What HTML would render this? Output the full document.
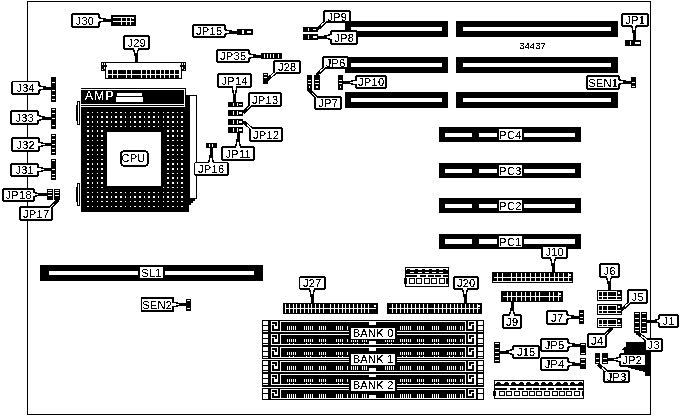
<!DOCTYPE html>
<html lang="en">
<head>
<meta charset="utf-8">
<title>Motherboard layout 34437</title>
<style>
html,body{margin:0;padding:0;background:#fff;}
body{width:682px;height:416px;overflow:hidden;}
svg{display:block;}
svg text{font-family:"Liberation Sans",sans-serif;fill:#000;letter-spacing:0.3px;}
</style>
</head>
<body>
<svg width="682" height="416" viewBox="0 0 682 416" shape-rendering="crispEdges">
<defs><filter id="bw" x="-5%" y="-20%" width="110%" height="140%" color-interpolation-filters="sRGB"><feComponentTransfer><feFuncA type="discrete" tableValues="0 0 0 0 0 1 1 1 1 1 1 1"/></feComponentTransfer></filter></defs>
<rect x="0" y="0" width="682" height="416" fill="#fff"/>
<rect x="27.5" y="1.5" width="623" height="413" fill="none" stroke="#000" stroke-width="1"/>
<rect x="345" y="21" width="103" height="16" fill="#000"/>
<rect x="351" y="27" width="91" height="4" fill="#fff"/>
<rect x="456" y="21" width="162" height="16" fill="#000"/>
<rect x="463" y="27" width="148" height="4" fill="#fff"/>
<rect x="345" y="57" width="103" height="16" fill="#000"/>
<rect x="351" y="63" width="91" height="4" fill="#fff"/>
<rect x="456" y="57" width="162" height="16" fill="#000"/>
<rect x="463" y="63" width="148" height="4" fill="#fff"/>
<rect x="345" y="92" width="103" height="16" fill="#000"/>
<rect x="351" y="98" width="91" height="4" fill="#fff"/>
<rect x="456" y="92" width="162" height="16" fill="#000"/>
<rect x="463" y="98" width="148" height="4" fill="#fff"/>
<rect x="439" y="127" width="142" height="15" fill="#000"/>
<rect x="445" y="133" width="27" height="4" fill="#fff"/>
<rect x="479" y="133" width="18" height="4" fill="#fff"/>
<rect x="524" y="133" width="51" height="4" fill="#fff"/>
<rect x="499" y="129" width="23" height="11" fill="#fff"/>
<text x="510.5" y="139" font-size="11" text-anchor="middle" filter="url(#bw)">PC4</text>
<rect x="439" y="163" width="142" height="15" fill="#000"/>
<rect x="445" y="169" width="27" height="4" fill="#fff"/>
<rect x="479" y="169" width="18" height="4" fill="#fff"/>
<rect x="524" y="169" width="51" height="4" fill="#fff"/>
<rect x="499" y="165" width="23" height="11" fill="#fff"/>
<text x="510.5" y="175" font-size="11" text-anchor="middle" filter="url(#bw)">PC3</text>
<rect x="439" y="198" width="142" height="15" fill="#000"/>
<rect x="445" y="204" width="27" height="4" fill="#fff"/>
<rect x="479" y="204" width="18" height="4" fill="#fff"/>
<rect x="524" y="204" width="51" height="4" fill="#fff"/>
<rect x="499" y="200" width="23" height="11" fill="#fff"/>
<text x="510.5" y="210" font-size="11" text-anchor="middle" filter="url(#bw)">PC2</text>
<rect x="439" y="234" width="142" height="15" fill="#000"/>
<rect x="445" y="239" width="27" height="5" fill="#fff"/>
<rect x="479" y="239" width="18" height="5" fill="#fff"/>
<rect x="524" y="239" width="51" height="5" fill="#fff"/>
<rect x="499" y="236" width="23" height="11" fill="#fff"/>
<text x="510.5" y="246" font-size="11" text-anchor="middle" filter="url(#bw)">PC1</text>
<rect x="40" y="265" width="223" height="16" fill="#000"/>
<rect x="49" y="271" width="89" height="4" fill="#fff"/>
<rect x="165" y="271" width="89" height="4" fill="#fff"/>
<rect x="140" y="267" width="23" height="11" fill="#fff"/>
<text x="151.5" y="276.5" font-size="11" text-anchor="middle" filter="url(#bw)">SL1</text>
<text x="532.5" y="49" font-size="9.5" text-anchor="middle" filter="url(#bw)" style="letter-spacing:0">34437</text>
<rect x="81" y="88" width="105" height="1" fill="#000"/>
<rect x="185" y="88" width="1" height="19" fill="#000"/>
<rect x="81" y="90" width="103" height="14" fill="#000"/>
<rect x="81" y="105" width="103" height="1" fill="#000"/>
<text x="85" y="100" font-size="12" text-anchor="start" filter="url(#bw)" style="fill:#fff;letter-spacing:1.3px">AMP</text>
<rect x="117" y="93" width="25" height="3" fill="#fff"/>
<rect x="116" y="97" width="27" height="5" fill="#fff"/>
<rect x="81" y="107" width="105" height="105" fill="#000"/>
<rect x="186" y="203" width="3" height="9" fill="#000"/>
<polygon points="186,95 197,95 197,199 195,199 195,201 193,201 193,203 191,203 191,205 186,205" fill="#000"/>
<rect x="190" y="96" width="6" height="102" fill="#fff"/>
<rect x="77" y="101" width="3" height="24" fill="#000"/>
<rect x="78" y="102" width="1" height="22" fill="#fff"/>
<rect x="76" y="105" width="1" height="16" fill="#000"/>
<rect x="77" y="183" width="3" height="23" fill="#000"/>
<rect x="78" y="184" width="1" height="21" fill="#fff"/>
<rect x="76" y="187" width="1" height="15" fill="#000"/>
<path d="M87.22,111.62h1.55v1.55h-1.55zM91.93,111.62h1.55v1.55h-1.55zM96.64,111.62h1.55v1.55h-1.55zM101.35,111.62h1.55v1.55h-1.55zM106.06,111.62h1.55v1.55h-1.55zM110.77,111.62h1.55v1.55h-1.55zM115.48,111.62h1.55v1.55h-1.55zM120.19,111.62h1.55v1.55h-1.55zM124.91,111.62h1.55v1.55h-1.55zM129.61,111.62h1.55v1.55h-1.55zM134.32,111.62h1.55v1.55h-1.55zM139.03,111.62h1.55v1.55h-1.55zM143.74,111.62h1.55v1.55h-1.55zM148.45,111.62h1.55v1.55h-1.55zM153.16,111.62h1.55v1.55h-1.55zM157.88,111.62h1.55v1.55h-1.55zM162.59,111.62h1.55v1.55h-1.55zM167.29,111.62h1.55v1.55h-1.55zM172.00,111.62h1.55v1.55h-1.55zM176.72,111.62h1.55v1.55h-1.55zM181.42,111.62h1.55v1.55h-1.55zM87.22,116.33h1.55v1.55h-1.55zM91.93,116.33h1.55v1.55h-1.55zM96.64,116.33h1.55v1.55h-1.55zM101.35,116.33h1.55v1.55h-1.55zM106.06,116.33h1.55v1.55h-1.55zM110.77,116.33h1.55v1.55h-1.55zM115.48,116.33h1.55v1.55h-1.55zM120.19,116.33h1.55v1.55h-1.55zM124.91,116.33h1.55v1.55h-1.55zM129.61,116.33h1.55v1.55h-1.55zM134.32,116.33h1.55v1.55h-1.55zM139.03,116.33h1.55v1.55h-1.55zM143.74,116.33h1.55v1.55h-1.55zM148.45,116.33h1.55v1.55h-1.55zM153.16,116.33h1.55v1.55h-1.55zM157.88,116.33h1.55v1.55h-1.55zM162.59,116.33h1.55v1.55h-1.55zM167.29,116.33h1.55v1.55h-1.55zM172.00,116.33h1.55v1.55h-1.55zM176.72,116.33h1.55v1.55h-1.55zM181.42,116.33h1.55v1.55h-1.55zM87.22,121.03h1.55v1.55h-1.55zM91.93,121.03h1.55v1.55h-1.55zM96.64,121.03h1.55v1.55h-1.55zM101.35,121.03h1.55v1.55h-1.55zM106.06,121.03h1.55v1.55h-1.55zM110.77,121.03h1.55v1.55h-1.55zM115.48,121.03h1.55v1.55h-1.55zM120.19,121.03h1.55v1.55h-1.55zM124.91,121.03h1.55v1.55h-1.55zM129.61,121.03h1.55v1.55h-1.55zM134.32,121.03h1.55v1.55h-1.55zM139.03,121.03h1.55v1.55h-1.55zM143.74,121.03h1.55v1.55h-1.55zM148.45,121.03h1.55v1.55h-1.55zM153.16,121.03h1.55v1.55h-1.55zM157.88,121.03h1.55v1.55h-1.55zM162.59,121.03h1.55v1.55h-1.55zM167.29,121.03h1.55v1.55h-1.55zM172.00,121.03h1.55v1.55h-1.55zM176.72,121.03h1.55v1.55h-1.55zM181.42,121.03h1.55v1.55h-1.55zM87.22,125.72h1.55v1.55h-1.55zM91.93,125.72h1.55v1.55h-1.55zM96.64,125.72h1.55v1.55h-1.55zM101.35,125.72h1.55v1.55h-1.55zM106.06,125.72h1.55v1.55h-1.55zM110.77,125.72h1.55v1.55h-1.55zM115.48,125.72h1.55v1.55h-1.55zM120.19,125.72h1.55v1.55h-1.55zM124.91,125.72h1.55v1.55h-1.55zM129.61,125.72h1.55v1.55h-1.55zM134.32,125.72h1.55v1.55h-1.55zM139.03,125.72h1.55v1.55h-1.55zM143.74,125.72h1.55v1.55h-1.55zM148.45,125.72h1.55v1.55h-1.55zM153.16,125.72h1.55v1.55h-1.55zM157.88,125.72h1.55v1.55h-1.55zM162.59,125.72h1.55v1.55h-1.55zM167.29,125.72h1.55v1.55h-1.55zM172.00,125.72h1.55v1.55h-1.55zM176.72,125.72h1.55v1.55h-1.55zM181.42,125.72h1.55v1.55h-1.55zM87.22,130.43h1.55v1.55h-1.55zM91.93,130.43h1.55v1.55h-1.55zM96.64,130.43h1.55v1.55h-1.55zM101.35,130.43h1.55v1.55h-1.55zM167.29,130.43h1.55v1.55h-1.55zM172.00,130.43h1.55v1.55h-1.55zM176.72,130.43h1.55v1.55h-1.55zM181.42,130.43h1.55v1.55h-1.55zM87.22,135.12h1.55v1.55h-1.55zM91.93,135.12h1.55v1.55h-1.55zM96.64,135.12h1.55v1.55h-1.55zM101.35,135.12h1.55v1.55h-1.55zM167.29,135.12h1.55v1.55h-1.55zM172.00,135.12h1.55v1.55h-1.55zM176.72,135.12h1.55v1.55h-1.55zM181.42,135.12h1.55v1.55h-1.55zM87.22,139.83h1.55v1.55h-1.55zM91.93,139.83h1.55v1.55h-1.55zM96.64,139.83h1.55v1.55h-1.55zM101.35,139.83h1.55v1.55h-1.55zM167.29,139.83h1.55v1.55h-1.55zM172.00,139.83h1.55v1.55h-1.55zM176.72,139.83h1.55v1.55h-1.55zM181.42,139.83h1.55v1.55h-1.55zM87.22,144.53h1.55v1.55h-1.55zM91.93,144.53h1.55v1.55h-1.55zM96.64,144.53h1.55v1.55h-1.55zM101.35,144.53h1.55v1.55h-1.55zM167.29,144.53h1.55v1.55h-1.55zM172.00,144.53h1.55v1.55h-1.55zM176.72,144.53h1.55v1.55h-1.55zM181.42,144.53h1.55v1.55h-1.55zM87.22,149.22h1.55v1.55h-1.55zM91.93,149.22h1.55v1.55h-1.55zM96.64,149.22h1.55v1.55h-1.55zM101.35,149.22h1.55v1.55h-1.55zM167.29,149.22h1.55v1.55h-1.55zM172.00,149.22h1.55v1.55h-1.55zM176.72,149.22h1.55v1.55h-1.55zM181.42,149.22h1.55v1.55h-1.55zM87.22,153.93h1.55v1.55h-1.55zM91.93,153.93h1.55v1.55h-1.55zM96.64,153.93h1.55v1.55h-1.55zM101.35,153.93h1.55v1.55h-1.55zM167.29,153.93h1.55v1.55h-1.55zM172.00,153.93h1.55v1.55h-1.55zM176.72,153.93h1.55v1.55h-1.55zM181.42,153.93h1.55v1.55h-1.55zM87.22,158.62h1.55v1.55h-1.55zM91.93,158.62h1.55v1.55h-1.55zM96.64,158.62h1.55v1.55h-1.55zM101.35,158.62h1.55v1.55h-1.55zM167.29,158.62h1.55v1.55h-1.55zM172.00,158.62h1.55v1.55h-1.55zM176.72,158.62h1.55v1.55h-1.55zM181.42,158.62h1.55v1.55h-1.55zM87.22,163.33h1.55v1.55h-1.55zM91.93,163.33h1.55v1.55h-1.55zM96.64,163.33h1.55v1.55h-1.55zM101.35,163.33h1.55v1.55h-1.55zM167.29,163.33h1.55v1.55h-1.55zM172.00,163.33h1.55v1.55h-1.55zM176.72,163.33h1.55v1.55h-1.55zM181.42,163.33h1.55v1.55h-1.55zM87.22,168.03h1.55v1.55h-1.55zM91.93,168.03h1.55v1.55h-1.55zM96.64,168.03h1.55v1.55h-1.55zM101.35,168.03h1.55v1.55h-1.55zM167.29,168.03h1.55v1.55h-1.55zM172.00,168.03h1.55v1.55h-1.55zM176.72,168.03h1.55v1.55h-1.55zM181.42,168.03h1.55v1.55h-1.55zM87.22,172.72h1.55v1.55h-1.55zM91.93,172.72h1.55v1.55h-1.55zM96.64,172.72h1.55v1.55h-1.55zM101.35,172.72h1.55v1.55h-1.55zM167.29,172.72h1.55v1.55h-1.55zM172.00,172.72h1.55v1.55h-1.55zM176.72,172.72h1.55v1.55h-1.55zM181.42,172.72h1.55v1.55h-1.55zM87.22,177.42h1.55v1.55h-1.55zM91.93,177.42h1.55v1.55h-1.55zM96.64,177.42h1.55v1.55h-1.55zM101.35,177.42h1.55v1.55h-1.55zM167.29,177.42h1.55v1.55h-1.55zM172.00,177.42h1.55v1.55h-1.55zM176.72,177.42h1.55v1.55h-1.55zM181.42,177.42h1.55v1.55h-1.55zM87.22,182.12h1.55v1.55h-1.55zM91.93,182.12h1.55v1.55h-1.55zM96.64,182.12h1.55v1.55h-1.55zM101.35,182.12h1.55v1.55h-1.55zM167.29,182.12h1.55v1.55h-1.55zM172.00,182.12h1.55v1.55h-1.55zM176.72,182.12h1.55v1.55h-1.55zM181.42,182.12h1.55v1.55h-1.55zM87.22,186.83h1.55v1.55h-1.55zM91.93,186.83h1.55v1.55h-1.55zM96.64,186.83h1.55v1.55h-1.55zM101.35,186.83h1.55v1.55h-1.55zM162.59,186.83h1.55v1.55h-1.55zM167.29,186.83h1.55v1.55h-1.55zM172.00,186.83h1.55v1.55h-1.55zM176.72,186.83h1.55v1.55h-1.55zM181.42,186.83h1.55v1.55h-1.55zM87.22,191.53h1.55v1.55h-1.55zM91.93,191.53h1.55v1.55h-1.55zM96.64,191.53h1.55v1.55h-1.55zM101.35,191.53h1.55v1.55h-1.55zM106.06,191.53h1.55v1.55h-1.55zM110.77,191.53h1.55v1.55h-1.55zM115.48,191.53h1.55v1.55h-1.55zM120.19,191.53h1.55v1.55h-1.55zM124.91,191.53h1.55v1.55h-1.55zM129.61,191.53h1.55v1.55h-1.55zM134.32,191.53h1.55v1.55h-1.55zM139.03,191.53h1.55v1.55h-1.55zM143.74,191.53h1.55v1.55h-1.55zM148.45,191.53h1.55v1.55h-1.55zM153.16,191.53h1.55v1.55h-1.55zM157.88,191.53h1.55v1.55h-1.55zM162.59,191.53h1.55v1.55h-1.55zM167.29,191.53h1.55v1.55h-1.55zM172.00,191.53h1.55v1.55h-1.55zM176.72,191.53h1.55v1.55h-1.55zM181.42,191.53h1.55v1.55h-1.55zM87.22,196.22h1.55v1.55h-1.55zM91.93,196.22h1.55v1.55h-1.55zM96.64,196.22h1.55v1.55h-1.55zM101.35,196.22h1.55v1.55h-1.55zM106.06,196.22h1.55v1.55h-1.55zM110.77,196.22h1.55v1.55h-1.55zM115.48,196.22h1.55v1.55h-1.55zM120.19,196.22h1.55v1.55h-1.55zM124.91,196.22h1.55v1.55h-1.55zM129.61,196.22h1.55v1.55h-1.55zM134.32,196.22h1.55v1.55h-1.55zM139.03,196.22h1.55v1.55h-1.55zM143.74,196.22h1.55v1.55h-1.55zM148.45,196.22h1.55v1.55h-1.55zM153.16,196.22h1.55v1.55h-1.55zM157.88,196.22h1.55v1.55h-1.55zM162.59,196.22h1.55v1.55h-1.55zM167.29,196.22h1.55v1.55h-1.55zM172.00,196.22h1.55v1.55h-1.55zM176.72,196.22h1.55v1.55h-1.55zM181.42,196.22h1.55v1.55h-1.55zM87.22,200.92h1.55v1.55h-1.55zM91.93,200.92h1.55v1.55h-1.55zM96.64,200.92h1.55v1.55h-1.55zM101.35,200.92h1.55v1.55h-1.55zM106.06,200.92h1.55v1.55h-1.55zM110.77,200.92h1.55v1.55h-1.55zM115.48,200.92h1.55v1.55h-1.55zM120.19,200.92h1.55v1.55h-1.55zM124.91,200.92h1.55v1.55h-1.55zM129.61,200.92h1.55v1.55h-1.55zM134.32,200.92h1.55v1.55h-1.55zM139.03,200.92h1.55v1.55h-1.55zM143.74,200.92h1.55v1.55h-1.55zM148.45,200.92h1.55v1.55h-1.55zM153.16,200.92h1.55v1.55h-1.55zM157.88,200.92h1.55v1.55h-1.55zM162.59,200.92h1.55v1.55h-1.55zM167.29,200.92h1.55v1.55h-1.55zM172.00,200.92h1.55v1.55h-1.55zM176.72,200.92h1.55v1.55h-1.55zM181.42,200.92h1.55v1.55h-1.55zM87.22,205.62h1.55v1.55h-1.55zM91.93,205.62h1.55v1.55h-1.55zM96.64,205.62h1.55v1.55h-1.55zM101.35,205.62h1.55v1.55h-1.55zM106.06,205.62h1.55v1.55h-1.55zM110.77,205.62h1.55v1.55h-1.55zM115.48,205.62h1.55v1.55h-1.55zM120.19,205.62h1.55v1.55h-1.55zM124.91,205.62h1.55v1.55h-1.55zM129.61,205.62h1.55v1.55h-1.55zM134.32,205.62h1.55v1.55h-1.55zM139.03,205.62h1.55v1.55h-1.55zM143.74,205.62h1.55v1.55h-1.55zM148.45,205.62h1.55v1.55h-1.55zM153.16,205.62h1.55v1.55h-1.55zM157.88,205.62h1.55v1.55h-1.55zM162.59,205.62h1.55v1.55h-1.55zM167.29,205.62h1.55v1.55h-1.55zM172.00,205.62h1.55v1.55h-1.55zM176.72,205.62h1.55v1.55h-1.55zM181.42,205.62h1.55v1.55h-1.55z" fill="#fff"/>
<rect x="107" y="132" width="54" height="54" fill="#fff"/>
<rect x="120" y="150" width="29" height="17" rx="4.5" fill="#000"/>
<rect x="122" y="152" width="25" height="13" rx="3" fill="#fff"/>
<text x="133.5" y="161.8" font-size="11" text-anchor="middle" filter="url(#bw)">CPU</text>
<rect x="101" y="62" width="85" height="1" fill="#000"/>
<rect x="105.5" y="62.5" width="76" height="16" fill="#fff" stroke="#000"/>
<rect x="101" y="62" width="5" height="9" fill="#000"/>
<rect x="106" y="65" width="1" height="2" fill="#000"/>
<rect x="102" y="63" width="1" height="2" fill="#fff"/>
<rect x="104" y="63" width="1" height="2" fill="#fff"/>
<rect x="104" y="67" width="1" height="2" fill="#fff"/>
<rect x="102" y="69" width="1" height="1" fill="#fff"/>
<rect x="181" y="62" width="5" height="9" fill="#000"/>
<rect x="180" y="65" width="1" height="2" fill="#000"/>
<rect x="184" y="63" width="1" height="2" fill="#fff"/>
<rect x="182" y="63" width="1" height="2" fill="#fff"/>
<rect x="182" y="67" width="1" height="2" fill="#fff"/>
<rect x="184" y="69" width="1" height="1" fill="#fff"/>
<rect x="108" y="70" width="71" height="8" fill="#000"/>
<rect x="108" y="74" width="71" height="1" fill="#fff"/>
<rect x="112" y="70" width="1" height="8" fill="#fff"/>
<rect x="117" y="70" width="1" height="8" fill="#fff"/>
<rect x="126" y="70" width="1" height="8" fill="#fff"/>
<rect x="131" y="70" width="1" height="8" fill="#fff"/>
<rect x="141" y="70" width="1" height="8" fill="#fff"/>
<rect x="146" y="70" width="1" height="8" fill="#fff"/>
<rect x="150" y="70" width="1" height="8" fill="#fff"/>
<rect x="155" y="70" width="1" height="8" fill="#fff"/>
<rect x="160" y="70" width="1" height="8" fill="#fff"/>
<rect x="164" y="70" width="1" height="8" fill="#fff"/>
<rect x="169" y="70" width="1" height="8" fill="#fff"/>
<rect x="174" y="70" width="1" height="8" fill="#fff"/>
<rect x="111" y="15" width="25" height="11" fill="#000"/>
<rect x="113" y="17" width="21" height="1" fill="#fff"/>
<rect x="113" y="21" width="21" height="1" fill="#fff"/>
<rect x="121" y="17" width="1" height="8" fill="#fff"/>
<rect x="126" y="17" width="1" height="8" fill="#fff"/>
<rect x="130" y="17" width="1" height="8" fill="#fff"/>
<rect x="132" y="17" width="2" height="2" fill="#fff"/>
<rect x="51" y="77" width="5" height="25" fill="#000"/>
<rect x="52" y="82" width="3" height="1" fill="#fff"/>
<rect x="52" y="90" width="3" height="1" fill="#fff"/>
<rect x="52" y="95" width="3" height="1" fill="#fff"/>
<rect x="52" y="99" width="3" height="1" fill="#fff"/>
<rect x="51" y="108" width="5" height="21" fill="#000"/>
<rect x="52" y="109" width="3" height="1" fill="#fff"/>
<rect x="52" y="113" width="3" height="1" fill="#fff"/>
<rect x="52" y="118" width="3" height="1" fill="#fff"/>
<rect x="52" y="125" width="3" height="1" fill="#fff"/>
<rect x="51" y="134" width="5" height="21" fill="#000"/>
<rect x="52" y="135" width="3" height="1" fill="#fff"/>
<rect x="52" y="139" width="3" height="1" fill="#fff"/>
<rect x="52" y="144" width="3" height="1" fill="#fff"/>
<rect x="52" y="148" width="3" height="1" fill="#fff"/>
<rect x="52" y="152" width="3" height="1" fill="#fff"/>
<rect x="51" y="159" width="5" height="21" fill="#000"/>
<rect x="52" y="160" width="3" height="1" fill="#fff"/>
<rect x="52" y="169" width="3" height="1" fill="#fff"/>
<rect x="52" y="174" width="3" height="1" fill="#fff"/>
<rect x="52" y="177" width="3" height="1" fill="#fff"/>
<rect x="47" y="189" width="6" height="11" fill="#000"/>
<rect x="48" y="190" width="4" height="1" fill="#fff"/>
<rect x="48" y="192" width="4" height="1" fill="#fff"/>
<rect x="48" y="195" width="4" height="1" fill="#fff"/>
<rect x="54" y="189" width="6" height="11" fill="#000"/>
<rect x="55" y="190" width="4" height="1" fill="#fff"/>
<rect x="55" y="192" width="4" height="1" fill="#fff"/>
<rect x="55" y="195" width="4" height="1" fill="#fff"/>
<rect x="237" y="29" width="16" height="6" fill="#000"/>
<rect x="242" y="30" width="1" height="4" fill="#fff"/>
<rect x="243" y="30" width="1" height="4" fill="#fff"/>
<rect x="247" y="31" width="4" height="2" fill="#fff"/>
<rect x="261" y="53" width="21" height="6" fill="#000"/>
<rect x="264" y="54" width="1" height="4" fill="#fff"/>
<rect x="267" y="54" width="1" height="4" fill="#fff"/>
<rect x="270" y="54" width="1" height="4" fill="#fff"/>
<rect x="273" y="54" width="1" height="4" fill="#fff"/>
<rect x="278" y="54" width="1" height="4" fill="#fff"/>
<rect x="263" y="73" width="5" height="11" fill="#000"/>
<rect x="264" y="74" width="3" height="1" fill="#fff"/>
<rect x="264" y="77" width="3" height="1" fill="#fff"/>
<rect x="228" y="102" width="15" height="5" fill="#000"/>
<rect x="233" y="103" width="1" height="3" fill="#fff"/>
<rect x="237" y="103" width="1" height="3" fill="#fff"/>
<rect x="239" y="104" width="3" height="1" fill="#fff"/>
<rect x="228" y="110" width="15" height="6" fill="#000"/>
<rect x="233" y="111" width="1" height="4" fill="#fff"/>
<rect x="237" y="111" width="1" height="4" fill="#fff"/>
<rect x="239" y="112" width="3" height="2" fill="#fff"/>
<rect x="228" y="119" width="15" height="6" fill="#000"/>
<rect x="233" y="120" width="1" height="4" fill="#fff"/>
<rect x="237" y="120" width="1" height="4" fill="#fff"/>
<rect x="239" y="121" width="3" height="2" fill="#fff"/>
<rect x="228" y="127" width="15" height="6" fill="#000"/>
<rect x="233" y="128" width="1" height="4" fill="#fff"/>
<rect x="237" y="128" width="1" height="4" fill="#fff"/>
<rect x="239" y="129" width="3" height="2" fill="#fff"/>
<rect x="206" y="143" width="11" height="5" fill="#000"/>
<rect x="209" y="144" width="1" height="3" fill="#fff"/>
<rect x="212" y="144" width="1" height="3" fill="#fff"/>
<rect x="303" y="27" width="15" height="5" fill="#000"/>
<rect x="308" y="28" width="1" height="3" fill="#fff"/>
<rect x="313" y="29" width="3" height="1" fill="#fff"/>
<rect x="303" y="34" width="15" height="6" fill="#000"/>
<rect x="308" y="35" width="1" height="4" fill="#fff"/>
<rect x="313" y="36" width="4" height="2" fill="#fff"/>
<rect x="307" y="75" width="5" height="15" fill="#000"/>
<rect x="308" y="80" width="3" height="1" fill="#fff"/>
<rect x="308" y="83" width="3" height="1" fill="#fff"/>
<rect x="309" y="86" width="1" height="2" fill="#fff"/>
<rect x="314" y="75" width="6" height="15" fill="#000"/>
<rect x="315" y="80" width="4" height="1" fill="#fff"/>
<rect x="315" y="83" width="4" height="1" fill="#fff"/>
<rect x="316" y="86" width="2" height="2" fill="#fff"/>
<rect x="338" y="75" width="5" height="15" fill="#000"/>
<rect x="339" y="80" width="3" height="1" fill="#fff"/>
<rect x="339" y="83" width="3" height="1" fill="#fff"/>
<rect x="340" y="86" width="1" height="2" fill="#fff"/>
<rect x="625" y="40" width="16" height="6" fill="#000"/>
<rect x="630" y="41" width="1" height="4" fill="#fff"/>
<rect x="635" y="42" width="5" height="2" fill="#fff"/>
<rect x="631" y="77" width="5" height="11" fill="#000"/>
<rect x="632" y="82" width="3" height="1" fill="#fff"/>
<rect x="632" y="86" width="3" height="1" fill="#fff"/>
<rect x="186" y="299" width="5" height="12" fill="#000"/>
<rect x="187" y="300" width="3" height="1" fill="#fff"/>
<rect x="187" y="308" width="3" height="1" fill="#fff"/>
<rect x="283" y="303" width="95" height="11" fill="#000"/>
<rect x="285" y="308" width="91" height="1" fill="#fff"/>
<rect x="285" y="304" width="1" height="9" fill="#fff"/>
<rect x="289" y="304" width="1" height="9" fill="#fff"/>
<rect x="293" y="304" width="1" height="9" fill="#fff"/>
<rect x="296" y="304" width="1" height="9" fill="#fff"/>
<rect x="300" y="304" width="1" height="9" fill="#fff"/>
<rect x="304" y="304" width="1" height="9" fill="#fff"/>
<rect x="308" y="304" width="1" height="9" fill="#fff"/>
<rect x="311" y="304" width="1" height="9" fill="#fff"/>
<rect x="315" y="304" width="1" height="9" fill="#fff"/>
<rect x="319" y="304" width="1" height="9" fill="#fff"/>
<rect x="323" y="304" width="1" height="9" fill="#fff"/>
<rect x="330" y="304" width="1" height="9" fill="#fff"/>
<rect x="334" y="304" width="1" height="9" fill="#fff"/>
<rect x="338" y="304" width="1" height="9" fill="#fff"/>
<rect x="342" y="304" width="1" height="9" fill="#fff"/>
<rect x="345" y="304" width="1" height="9" fill="#fff"/>
<rect x="349" y="304" width="1" height="9" fill="#fff"/>
<rect x="353" y="304" width="1" height="9" fill="#fff"/>
<rect x="357" y="304" width="1" height="9" fill="#fff"/>
<rect x="361" y="304" width="1" height="9" fill="#fff"/>
<rect x="364" y="304" width="1" height="9" fill="#fff"/>
<rect x="368" y="304" width="1" height="9" fill="#fff"/>
<rect x="374" y="305" width="2" height="2" fill="#fff"/>
<rect x="387" y="303" width="95" height="11" fill="#000"/>
<rect x="389" y="308" width="91" height="1" fill="#fff"/>
<rect x="392" y="304" width="1" height="9" fill="#fff"/>
<rect x="396" y="304" width="1" height="9" fill="#fff"/>
<rect x="400" y="304" width="1" height="9" fill="#fff"/>
<rect x="404" y="304" width="1" height="9" fill="#fff"/>
<rect x="407" y="304" width="1" height="9" fill="#fff"/>
<rect x="411" y="304" width="1" height="9" fill="#fff"/>
<rect x="415" y="304" width="1" height="9" fill="#fff"/>
<rect x="419" y="304" width="1" height="9" fill="#fff"/>
<rect x="423" y="304" width="1" height="9" fill="#fff"/>
<rect x="427" y="304" width="1" height="9" fill="#fff"/>
<rect x="434" y="304" width="1" height="9" fill="#fff"/>
<rect x="438" y="304" width="1" height="9" fill="#fff"/>
<rect x="442" y="304" width="1" height="9" fill="#fff"/>
<rect x="446" y="304" width="1" height="9" fill="#fff"/>
<rect x="450" y="304" width="1" height="9" fill="#fff"/>
<rect x="454" y="304" width="1" height="9" fill="#fff"/>
<rect x="457" y="304" width="1" height="9" fill="#fff"/>
<rect x="461" y="304" width="1" height="9" fill="#fff"/>
<rect x="465" y="304" width="1" height="9" fill="#fff"/>
<rect x="469" y="304" width="1" height="9" fill="#fff"/>
<rect x="473" y="304" width="1" height="9" fill="#fff"/>
<rect x="477" y="304" width="1" height="9" fill="#fff"/>
<rect x="478" y="305" width="2" height="2" fill="#fff"/>
<rect x="492" y="272" width="81" height="11" fill="#000"/>
<rect x="494" y="277" width="77" height="1" fill="#fff"/>
<rect x="493" y="281" width="79" height="1" fill="#fff"/>
<rect x="497" y="273" width="1" height="8" fill="#fff"/>
<rect x="502" y="273" width="1" height="8" fill="#fff"/>
<rect x="511" y="273" width="1" height="8" fill="#fff"/>
<rect x="516" y="273" width="1" height="8" fill="#fff"/>
<rect x="521" y="273" width="1" height="8" fill="#fff"/>
<rect x="525" y="273" width="1" height="8" fill="#fff"/>
<rect x="530" y="273" width="1" height="8" fill="#fff"/>
<rect x="535" y="273" width="1" height="8" fill="#fff"/>
<rect x="540" y="273" width="1" height="8" fill="#fff"/>
<rect x="544" y="273" width="1" height="8" fill="#fff"/>
<rect x="549" y="273" width="1" height="8" fill="#fff"/>
<rect x="554" y="273" width="1" height="8" fill="#fff"/>
<rect x="558" y="273" width="1" height="8" fill="#fff"/>
<rect x="563" y="273" width="1" height="8" fill="#fff"/>
<rect x="568" y="273" width="1" height="8" fill="#fff"/>
<rect x="569" y="274" width="2" height="2" fill="#fff"/>
<rect x="501" y="291" width="62" height="11" fill="#000"/>
<rect x="503" y="296" width="58" height="1" fill="#fff"/>
<rect x="507" y="292" width="1" height="9" fill="#fff"/>
<rect x="511" y="292" width="1" height="9" fill="#fff"/>
<rect x="516" y="292" width="1" height="9" fill="#fff"/>
<rect x="521" y="292" width="1" height="9" fill="#fff"/>
<rect x="525" y="292" width="1" height="9" fill="#fff"/>
<rect x="530" y="292" width="1" height="9" fill="#fff"/>
<rect x="535" y="292" width="1" height="9" fill="#fff"/>
<rect x="539" y="292" width="1" height="9" fill="#fff"/>
<rect x="549" y="292" width="1" height="9" fill="#fff"/>
<rect x="553" y="292" width="1" height="9" fill="#fff"/>
<rect x="558" y="292" width="1" height="9" fill="#fff"/>
<rect x="559" y="293" width="2" height="2" fill="#fff"/>
<rect x="597" y="290" width="25" height="11" fill="#000"/>
<rect x="598" y="291" width="18" height="1" fill="#fff"/>
<rect x="598" y="296" width="23" height="1" fill="#fff"/>
<rect x="598" y="299" width="23" height="1" fill="#fff"/>
<rect x="598" y="291" width="1" height="9" fill="#fff"/>
<rect x="602" y="291" width="1" height="9" fill="#fff"/>
<rect x="607" y="291" width="1" height="9" fill="#fff"/>
<rect x="616" y="291" width="1" height="9" fill="#fff"/>
<rect x="618" y="292" width="2" height="2" fill="#fff"/>
<rect x="597" y="304" width="25" height="11" fill="#000"/>
<rect x="598" y="305" width="18" height="1" fill="#fff"/>
<rect x="598" y="310" width="23" height="1" fill="#fff"/>
<rect x="598" y="313" width="23" height="1" fill="#fff"/>
<rect x="598" y="305" width="1" height="9" fill="#fff"/>
<rect x="602" y="305" width="1" height="9" fill="#fff"/>
<rect x="607" y="305" width="1" height="9" fill="#fff"/>
<rect x="616" y="305" width="1" height="9" fill="#fff"/>
<rect x="618" y="306" width="2" height="2" fill="#fff"/>
<rect x="597" y="318" width="25" height="10" fill="#000"/>
<rect x="598" y="319" width="18" height="1" fill="#fff"/>
<rect x="598" y="324" width="23" height="1" fill="#fff"/>
<rect x="598" y="326" width="23" height="1" fill="#fff"/>
<rect x="598" y="319" width="1" height="8" fill="#fff"/>
<rect x="602" y="319" width="1" height="8" fill="#fff"/>
<rect x="607" y="319" width="1" height="8" fill="#fff"/>
<rect x="616" y="319" width="1" height="8" fill="#fff"/>
<rect x="618" y="320" width="2" height="2" fill="#fff"/>
<rect x="579" y="310" width="5" height="14" fill="#000"/>
<rect x="580" y="313" width="3" height="1" fill="#fff"/>
<rect x="580" y="317" width="3" height="1" fill="#fff"/>
<rect x="580" y="320" width="3" height="1" fill="#fff"/>
<rect x="634" y="312" width="6" height="21" fill="#000"/>
<rect x="635" y="313" width="4" height="1" fill="#fff"/>
<rect x="635" y="318" width="4" height="1" fill="#fff"/>
<rect x="635" y="322" width="4" height="1" fill="#fff"/>
<rect x="635" y="327" width="4" height="1" fill="#fff"/>
<rect x="635" y="330" width="4" height="1" fill="#fff"/>
<rect x="641" y="312" width="6" height="21" fill="#000"/>
<rect x="642" y="313" width="4" height="1" fill="#fff"/>
<rect x="642" y="318" width="4" height="1" fill="#fff"/>
<rect x="642" y="322" width="4" height="1" fill="#fff"/>
<rect x="642" y="327" width="4" height="1" fill="#fff"/>
<rect x="642" y="330" width="4" height="1" fill="#fff"/>
<rect x="494" y="342" width="6" height="21" fill="#000"/>
<rect x="495" y="343" width="4" height="1" fill="#fff"/>
<rect x="495" y="348" width="4" height="1" fill="#fff"/>
<rect x="495" y="352" width="4" height="1" fill="#fff"/>
<rect x="495" y="356" width="4" height="1" fill="#fff"/>
<rect x="495" y="360" width="4" height="1" fill="#fff"/>
<rect x="580" y="343" width="6" height="12" fill="#000"/>
<rect x="581" y="344" width="4" height="1" fill="#fff"/>
<rect x="581" y="353" width="4" height="1" fill="#fff"/>
<rect x="580" y="358" width="6" height="11" fill="#000"/>
<rect x="581" y="359" width="4" height="1" fill="#fff"/>
<rect x="581" y="363" width="4" height="1" fill="#fff"/>
<rect x="595" y="353" width="5" height="11" fill="#000"/>
<rect x="596" y="358" width="3" height="1" fill="#fff"/>
<rect x="596" y="362" width="3" height="1" fill="#fff"/>
<rect x="602" y="353" width="6" height="11" fill="#000"/>
<rect x="603" y="358" width="4" height="1" fill="#fff"/>
<rect x="603" y="362" width="4" height="1" fill="#fff"/>
<polygon points="626,342 651,342 651,376 645,376 645,372 629,368 624,366 622,354 622,349 624,347 626,347" fill="#000"/>
<rect x="622" y="350" width="2" height="3" fill="#fff"/>
<rect x="405.5" y="267.5" width="43" height="19" fill="#fff" stroke="#000"/>
<rect x="406" y="270" width="42" height="4" fill="#000"/>
<rect x="407" y="269" width="3" height="1" fill="#000"/>
<rect x="410" y="272" width="4" height="1" fill="#fff"/>
<rect x="415" y="269" width="3" height="1" fill="#000"/>
<rect x="418" y="272" width="4" height="1" fill="#fff"/>
<rect x="422" y="269" width="3" height="1" fill="#000"/>
<rect x="425" y="272" width="4" height="1" fill="#fff"/>
<rect x="429" y="269" width="3" height="1" fill="#000"/>
<rect x="432" y="272" width="4" height="1" fill="#fff"/>
<rect x="436" y="269" width="3" height="1" fill="#000"/>
<rect x="439" y="272" width="4" height="1" fill="#fff"/>
<rect x="443" y="269" width="3" height="1" fill="#000"/>
<rect x="406" y="275" width="11" height="2" fill="#000"/>
<rect x="420" y="275" width="6" height="2" fill="#000"/>
<rect x="428" y="275" width="6" height="2" fill="#000"/>
<rect x="435" y="275" width="6" height="2" fill="#000"/>
<rect x="443" y="275" width="5" height="2" fill="#000"/>
<rect x="409.5" y="278.5" width="5" height="5" fill="#fff" stroke="#000"/>
<rect x="416.5" y="278.5" width="5" height="5" fill="#fff" stroke="#000"/>
<rect x="424.5" y="278.5" width="5" height="5" fill="#fff" stroke="#000"/>
<rect x="431.5" y="278.5" width="5" height="5" fill="#fff" stroke="#000"/>
<rect x="439.5" y="278.5" width="5" height="5" fill="#fff" stroke="#000"/>
<rect x="446.5" y="278.5" width="1" height="5" fill="#fff" stroke="#000"/>
<rect x="404" y="278" width="3" height="6" fill="#000"/>
<rect x="494.5" y="380.5" width="89" height="18" fill="#fff" stroke="#000"/>
<rect x="495" y="384" width="88" height="2" fill="#000"/>
<rect x="497" y="382" width="3" height="1" fill="#000"/>
<rect x="496" y="383" width="5" height="1" fill="#000"/>
<rect x="505" y="382" width="3" height="1" fill="#000"/>
<rect x="504" y="383" width="5" height="1" fill="#000"/>
<rect x="509" y="384" width="2" height="1" fill="#fff"/>
<rect x="512" y="382" width="3" height="1" fill="#000"/>
<rect x="511" y="383" width="5" height="1" fill="#000"/>
<rect x="520" y="382" width="3" height="1" fill="#000"/>
<rect x="519" y="383" width="5" height="1" fill="#000"/>
<rect x="524" y="384" width="2" height="1" fill="#fff"/>
<rect x="527" y="382" width="3" height="1" fill="#000"/>
<rect x="526" y="383" width="5" height="1" fill="#000"/>
<rect x="535" y="382" width="3" height="1" fill="#000"/>
<rect x="534" y="383" width="5" height="1" fill="#000"/>
<rect x="539" y="384" width="2" height="1" fill="#fff"/>
<rect x="542" y="382" width="3" height="1" fill="#000"/>
<rect x="541" y="383" width="5" height="1" fill="#000"/>
<rect x="549" y="382" width="3" height="1" fill="#000"/>
<rect x="548" y="383" width="5" height="1" fill="#000"/>
<rect x="553" y="384" width="2" height="1" fill="#fff"/>
<rect x="557" y="382" width="3" height="1" fill="#000"/>
<rect x="556" y="383" width="5" height="1" fill="#000"/>
<rect x="564" y="382" width="3" height="1" fill="#000"/>
<rect x="563" y="383" width="5" height="1" fill="#000"/>
<rect x="568" y="384" width="2" height="1" fill="#fff"/>
<rect x="571" y="382" width="3" height="1" fill="#000"/>
<rect x="570" y="383" width="5" height="1" fill="#000"/>
<rect x="579" y="382" width="3" height="1" fill="#000"/>
<rect x="578" y="383" width="5" height="1" fill="#000"/>
<rect x="495" y="388" width="12" height="2" fill="#000"/>
<rect x="510" y="388" width="6" height="2" fill="#000"/>
<rect x="518" y="388" width="6" height="2" fill="#000"/>
<rect x="526" y="388" width="6" height="2" fill="#000"/>
<rect x="533" y="388" width="6" height="2" fill="#000"/>
<rect x="540" y="388" width="6" height="2" fill="#000"/>
<rect x="548" y="388" width="6" height="2" fill="#000"/>
<rect x="556" y="388" width="6" height="2" fill="#000"/>
<rect x="563" y="388" width="6" height="2" fill="#000"/>
<rect x="570" y="388" width="6" height="2" fill="#000"/>
<rect x="578" y="388" width="5" height="2" fill="#000"/>
<rect x="499.5" y="391.5" width="5" height="4" fill="#fff" stroke="#000"/>
<rect x="506.5" y="391.5" width="5" height="4" fill="#fff" stroke="#000"/>
<rect x="514.5" y="391.5" width="5" height="4" fill="#fff" stroke="#000"/>
<rect x="522.5" y="391.5" width="5" height="4" fill="#fff" stroke="#000"/>
<rect x="529.5" y="391.5" width="5" height="4" fill="#fff" stroke="#000"/>
<rect x="536.5" y="391.5" width="5" height="4" fill="#fff" stroke="#000"/>
<rect x="544.5" y="391.5" width="5" height="4" fill="#fff" stroke="#000"/>
<rect x="552.5" y="391.5" width="5" height="4" fill="#fff" stroke="#000"/>
<rect x="559.5" y="391.5" width="5" height="4" fill="#fff" stroke="#000"/>
<rect x="566.5" y="391.5" width="5" height="4" fill="#fff" stroke="#000"/>
<rect x="574.5" y="391.5" width="5" height="4" fill="#fff" stroke="#000"/>
<rect x="582" y="391" width="1" height="5" fill="#000"/>
<rect x="493" y="391" width="3" height="5" fill="#000"/>
<rect x="262" y="320" width="222" height="39" fill="#000"/>
<rect x="262" y="360" width="222" height="27" fill="#000"/>
<rect x="262" y="388" width="222" height="12" fill="#000"/>
<rect x="263" y="321" width="5" height="4" fill="#fff"/>
<rect x="263" y="326" width="5" height="4" fill="#fff"/>
<rect x="263" y="331" width="5" height="1" fill="#fff"/>
<rect x="478" y="321" width="5" height="4" fill="#fff"/>
<rect x="478" y="326" width="5" height="4" fill="#fff"/>
<rect x="478" y="331" width="5" height="1" fill="#fff"/>
<rect x="271" y="321" width="206" height="11" fill="#fff"/>
<rect x="272" y="322" width="5" height="2" fill="#000"/>
<rect x="275" y="324" width="2" height="2" fill="#000"/>
<rect x="272" y="325" width="2" height="6" fill="#000"/>
<rect x="272" y="329" width="8" height="2" fill="#000"/>
<rect x="278" y="321" width="2" height="10" fill="#000"/>
<rect x="469" y="322" width="5" height="2" fill="#000"/>
<rect x="469" y="324" width="2" height="2" fill="#000"/>
<rect x="472" y="325" width="2" height="6" fill="#000"/>
<rect x="466" y="329" width="8" height="2" fill="#000"/>
<rect x="466" y="321" width="2" height="10" fill="#000"/>
<rect x="476" y="321" width="1" height="11" fill="#000"/>
<rect x="281" y="322" width="184" height="9" fill="#000"/>
<rect x="287" y="326" width="1" height="4" fill="#fff"/>
<rect x="289" y="326" width="1" height="4" fill="#fff"/>
<rect x="291" y="326" width="1" height="4" fill="#fff"/>
<rect x="293" y="326" width="1" height="4" fill="#fff"/>
<rect x="295" y="326" width="1" height="4" fill="#fff"/>
<rect x="304" y="326" width="1" height="4" fill="#fff"/>
<rect x="306" y="326" width="1" height="4" fill="#fff"/>
<rect x="308" y="326" width="1" height="4" fill="#fff"/>
<rect x="310" y="326" width="1" height="4" fill="#fff"/>
<rect x="312" y="326" width="1" height="4" fill="#fff"/>
<rect x="319" y="326" width="1" height="4" fill="#fff"/>
<rect x="321" y="326" width="1" height="4" fill="#fff"/>
<rect x="323" y="326" width="1" height="4" fill="#fff"/>
<rect x="325" y="326" width="1" height="4" fill="#fff"/>
<rect x="336" y="326" width="1" height="4" fill="#fff"/>
<rect x="338" y="326" width="1" height="4" fill="#fff"/>
<rect x="340" y="326" width="1" height="4" fill="#fff"/>
<rect x="342" y="326" width="1" height="4" fill="#fff"/>
<rect x="347" y="326" width="1" height="4" fill="#fff"/>
<rect x="351" y="326" width="1" height="4" fill="#fff"/>
<rect x="353" y="326" width="1" height="4" fill="#fff"/>
<rect x="355" y="326" width="1" height="4" fill="#fff"/>
<rect x="357" y="326" width="1" height="4" fill="#fff"/>
<rect x="362" y="326" width="1" height="4" fill="#fff"/>
<rect x="364" y="326" width="1" height="4" fill="#fff"/>
<rect x="366" y="326" width="1" height="4" fill="#fff"/>
<rect x="385" y="326" width="1" height="4" fill="#fff"/>
<rect x="387" y="326" width="1" height="4" fill="#fff"/>
<rect x="389" y="326" width="1" height="4" fill="#fff"/>
<rect x="391" y="326" width="1" height="4" fill="#fff"/>
<rect x="393" y="326" width="1" height="4" fill="#fff"/>
<rect x="400" y="326" width="1" height="4" fill="#fff"/>
<rect x="402" y="326" width="1" height="4" fill="#fff"/>
<rect x="404" y="326" width="1" height="4" fill="#fff"/>
<rect x="406" y="326" width="1" height="4" fill="#fff"/>
<rect x="408" y="326" width="1" height="4" fill="#fff"/>
<rect x="410" y="326" width="1" height="4" fill="#fff"/>
<rect x="417" y="326" width="1" height="4" fill="#fff"/>
<rect x="419" y="326" width="1" height="4" fill="#fff"/>
<rect x="421" y="326" width="1" height="4" fill="#fff"/>
<rect x="423" y="326" width="1" height="4" fill="#fff"/>
<rect x="432" y="326" width="1" height="4" fill="#fff"/>
<rect x="434" y="326" width="1" height="4" fill="#fff"/>
<rect x="436" y="326" width="1" height="4" fill="#fff"/>
<rect x="438" y="326" width="1" height="4" fill="#fff"/>
<rect x="447" y="326" width="1" height="4" fill="#fff"/>
<rect x="449" y="326" width="1" height="4" fill="#fff"/>
<rect x="451" y="326" width="1" height="4" fill="#fff"/>
<rect x="453" y="326" width="1" height="4" fill="#fff"/>
<rect x="455" y="326" width="1" height="4" fill="#fff"/>
<rect x="460" y="326" width="1" height="4" fill="#fff"/>
<rect x="462" y="326" width="1" height="4" fill="#fff"/>
<rect x="369" y="322" width="7" height="4" fill="#fff"/>
<rect x="263" y="334" width="5" height="4" fill="#fff"/>
<rect x="263" y="339" width="5" height="4" fill="#fff"/>
<rect x="263" y="344" width="5" height="1" fill="#fff"/>
<rect x="478" y="334" width="5" height="4" fill="#fff"/>
<rect x="478" y="339" width="5" height="4" fill="#fff"/>
<rect x="478" y="344" width="5" height="1" fill="#fff"/>
<rect x="271" y="334" width="206" height="11" fill="#fff"/>
<rect x="272" y="335" width="5" height="2" fill="#000"/>
<rect x="275" y="337" width="2" height="2" fill="#000"/>
<rect x="272" y="338" width="2" height="6" fill="#000"/>
<rect x="272" y="342" width="8" height="2" fill="#000"/>
<rect x="278" y="334" width="2" height="10" fill="#000"/>
<rect x="469" y="335" width="5" height="2" fill="#000"/>
<rect x="469" y="337" width="2" height="2" fill="#000"/>
<rect x="472" y="338" width="2" height="6" fill="#000"/>
<rect x="466" y="342" width="8" height="2" fill="#000"/>
<rect x="466" y="334" width="2" height="10" fill="#000"/>
<rect x="476" y="334" width="1" height="11" fill="#000"/>
<rect x="281" y="335" width="184" height="9" fill="#000"/>
<rect x="287" y="339" width="1" height="3" fill="#fff"/>
<rect x="289" y="339" width="1" height="3" fill="#fff"/>
<rect x="291" y="339" width="1" height="3" fill="#fff"/>
<rect x="293" y="339" width="1" height="3" fill="#fff"/>
<rect x="295" y="339" width="1" height="3" fill="#fff"/>
<rect x="289" y="343" width="1" height="1" fill="#fff"/>
<rect x="293" y="343" width="1" height="1" fill="#fff"/>
<rect x="304" y="339" width="1" height="3" fill="#fff"/>
<rect x="306" y="339" width="1" height="3" fill="#fff"/>
<rect x="308" y="339" width="1" height="3" fill="#fff"/>
<rect x="310" y="339" width="1" height="3" fill="#fff"/>
<rect x="312" y="339" width="1" height="3" fill="#fff"/>
<rect x="306" y="343" width="1" height="1" fill="#fff"/>
<rect x="310" y="343" width="1" height="1" fill="#fff"/>
<rect x="319" y="339" width="1" height="3" fill="#fff"/>
<rect x="321" y="339" width="1" height="3" fill="#fff"/>
<rect x="323" y="339" width="1" height="3" fill="#fff"/>
<rect x="325" y="339" width="1" height="3" fill="#fff"/>
<rect x="321" y="343" width="1" height="1" fill="#fff"/>
<rect x="325" y="343" width="1" height="1" fill="#fff"/>
<rect x="336" y="339" width="1" height="3" fill="#fff"/>
<rect x="338" y="339" width="1" height="3" fill="#fff"/>
<rect x="340" y="339" width="1" height="3" fill="#fff"/>
<rect x="342" y="339" width="1" height="3" fill="#fff"/>
<rect x="338" y="343" width="1" height="1" fill="#fff"/>
<rect x="342" y="343" width="1" height="1" fill="#fff"/>
<rect x="347" y="339" width="1" height="3" fill="#fff"/>
<rect x="351" y="339" width="1" height="3" fill="#fff"/>
<rect x="353" y="339" width="1" height="3" fill="#fff"/>
<rect x="355" y="339" width="1" height="3" fill="#fff"/>
<rect x="357" y="339" width="1" height="3" fill="#fff"/>
<rect x="353" y="343" width="1" height="1" fill="#fff"/>
<rect x="357" y="343" width="1" height="1" fill="#fff"/>
<rect x="362" y="339" width="1" height="3" fill="#fff"/>
<rect x="364" y="339" width="1" height="3" fill="#fff"/>
<rect x="366" y="339" width="1" height="3" fill="#fff"/>
<rect x="364" y="343" width="1" height="1" fill="#fff"/>
<rect x="385" y="339" width="1" height="3" fill="#fff"/>
<rect x="387" y="339" width="1" height="3" fill="#fff"/>
<rect x="389" y="339" width="1" height="3" fill="#fff"/>
<rect x="391" y="339" width="1" height="3" fill="#fff"/>
<rect x="393" y="339" width="1" height="3" fill="#fff"/>
<rect x="387" y="343" width="1" height="1" fill="#fff"/>
<rect x="391" y="343" width="1" height="1" fill="#fff"/>
<rect x="400" y="339" width="1" height="3" fill="#fff"/>
<rect x="402" y="339" width="1" height="3" fill="#fff"/>
<rect x="404" y="339" width="1" height="3" fill="#fff"/>
<rect x="406" y="339" width="1" height="3" fill="#fff"/>
<rect x="408" y="339" width="1" height="3" fill="#fff"/>
<rect x="410" y="339" width="1" height="3" fill="#fff"/>
<rect x="402" y="343" width="1" height="1" fill="#fff"/>
<rect x="406" y="343" width="1" height="1" fill="#fff"/>
<rect x="417" y="339" width="1" height="3" fill="#fff"/>
<rect x="419" y="339" width="1" height="3" fill="#fff"/>
<rect x="421" y="339" width="1" height="3" fill="#fff"/>
<rect x="423" y="339" width="1" height="3" fill="#fff"/>
<rect x="419" y="343" width="1" height="1" fill="#fff"/>
<rect x="423" y="343" width="1" height="1" fill="#fff"/>
<rect x="432" y="339" width="1" height="3" fill="#fff"/>
<rect x="434" y="339" width="1" height="3" fill="#fff"/>
<rect x="436" y="339" width="1" height="3" fill="#fff"/>
<rect x="438" y="339" width="1" height="3" fill="#fff"/>
<rect x="434" y="343" width="1" height="1" fill="#fff"/>
<rect x="438" y="343" width="1" height="1" fill="#fff"/>
<rect x="447" y="339" width="1" height="3" fill="#fff"/>
<rect x="449" y="339" width="1" height="3" fill="#fff"/>
<rect x="451" y="339" width="1" height="3" fill="#fff"/>
<rect x="453" y="339" width="1" height="3" fill="#fff"/>
<rect x="455" y="339" width="1" height="3" fill="#fff"/>
<rect x="449" y="343" width="1" height="1" fill="#fff"/>
<rect x="453" y="343" width="1" height="1" fill="#fff"/>
<rect x="460" y="339" width="1" height="3" fill="#fff"/>
<rect x="462" y="339" width="1" height="3" fill="#fff"/>
<rect x="462" y="343" width="1" height="1" fill="#fff"/>
<rect x="369" y="341" width="7" height="3" fill="#fff"/>
<rect x="263" y="347" width="5" height="4" fill="#fff"/>
<rect x="263" y="352" width="5" height="4" fill="#fff"/>
<rect x="263" y="357" width="5" height="1" fill="#fff"/>
<rect x="478" y="347" width="5" height="4" fill="#fff"/>
<rect x="478" y="352" width="5" height="4" fill="#fff"/>
<rect x="478" y="357" width="5" height="1" fill="#fff"/>
<rect x="271" y="347" width="206" height="11" fill="#fff"/>
<rect x="272" y="348" width="5" height="2" fill="#000"/>
<rect x="275" y="350" width="2" height="2" fill="#000"/>
<rect x="272" y="351" width="2" height="6" fill="#000"/>
<rect x="272" y="355" width="8" height="2" fill="#000"/>
<rect x="278" y="347" width="2" height="10" fill="#000"/>
<rect x="469" y="348" width="5" height="2" fill="#000"/>
<rect x="469" y="350" width="2" height="2" fill="#000"/>
<rect x="472" y="351" width="2" height="6" fill="#000"/>
<rect x="466" y="355" width="8" height="2" fill="#000"/>
<rect x="466" y="347" width="2" height="10" fill="#000"/>
<rect x="476" y="347" width="1" height="11" fill="#000"/>
<rect x="281" y="348" width="184" height="9" fill="#000"/>
<rect x="287" y="352" width="1" height="3" fill="#fff"/>
<rect x="289" y="352" width="1" height="3" fill="#fff"/>
<rect x="291" y="352" width="1" height="3" fill="#fff"/>
<rect x="293" y="352" width="1" height="3" fill="#fff"/>
<rect x="295" y="352" width="1" height="3" fill="#fff"/>
<rect x="289" y="356" width="1" height="1" fill="#fff"/>
<rect x="293" y="356" width="1" height="1" fill="#fff"/>
<rect x="304" y="352" width="1" height="3" fill="#fff"/>
<rect x="306" y="352" width="1" height="3" fill="#fff"/>
<rect x="308" y="352" width="1" height="3" fill="#fff"/>
<rect x="310" y="352" width="1" height="3" fill="#fff"/>
<rect x="312" y="352" width="1" height="3" fill="#fff"/>
<rect x="306" y="356" width="1" height="1" fill="#fff"/>
<rect x="310" y="356" width="1" height="1" fill="#fff"/>
<rect x="319" y="352" width="1" height="3" fill="#fff"/>
<rect x="321" y="352" width="1" height="3" fill="#fff"/>
<rect x="323" y="352" width="1" height="3" fill="#fff"/>
<rect x="325" y="352" width="1" height="3" fill="#fff"/>
<rect x="321" y="356" width="1" height="1" fill="#fff"/>
<rect x="325" y="356" width="1" height="1" fill="#fff"/>
<rect x="336" y="352" width="1" height="3" fill="#fff"/>
<rect x="338" y="352" width="1" height="3" fill="#fff"/>
<rect x="340" y="352" width="1" height="3" fill="#fff"/>
<rect x="342" y="352" width="1" height="3" fill="#fff"/>
<rect x="338" y="356" width="1" height="1" fill="#fff"/>
<rect x="342" y="356" width="1" height="1" fill="#fff"/>
<rect x="347" y="352" width="1" height="3" fill="#fff"/>
<rect x="351" y="352" width="1" height="3" fill="#fff"/>
<rect x="353" y="352" width="1" height="3" fill="#fff"/>
<rect x="355" y="352" width="1" height="3" fill="#fff"/>
<rect x="357" y="352" width="1" height="3" fill="#fff"/>
<rect x="353" y="356" width="1" height="1" fill="#fff"/>
<rect x="357" y="356" width="1" height="1" fill="#fff"/>
<rect x="362" y="352" width="1" height="3" fill="#fff"/>
<rect x="364" y="352" width="1" height="3" fill="#fff"/>
<rect x="366" y="352" width="1" height="3" fill="#fff"/>
<rect x="364" y="356" width="1" height="1" fill="#fff"/>
<rect x="385" y="352" width="1" height="3" fill="#fff"/>
<rect x="387" y="352" width="1" height="3" fill="#fff"/>
<rect x="389" y="352" width="1" height="3" fill="#fff"/>
<rect x="391" y="352" width="1" height="3" fill="#fff"/>
<rect x="393" y="352" width="1" height="3" fill="#fff"/>
<rect x="387" y="356" width="1" height="1" fill="#fff"/>
<rect x="391" y="356" width="1" height="1" fill="#fff"/>
<rect x="400" y="352" width="1" height="3" fill="#fff"/>
<rect x="402" y="352" width="1" height="3" fill="#fff"/>
<rect x="404" y="352" width="1" height="3" fill="#fff"/>
<rect x="406" y="352" width="1" height="3" fill="#fff"/>
<rect x="408" y="352" width="1" height="3" fill="#fff"/>
<rect x="410" y="352" width="1" height="3" fill="#fff"/>
<rect x="402" y="356" width="1" height="1" fill="#fff"/>
<rect x="406" y="356" width="1" height="1" fill="#fff"/>
<rect x="417" y="352" width="1" height="3" fill="#fff"/>
<rect x="419" y="352" width="1" height="3" fill="#fff"/>
<rect x="421" y="352" width="1" height="3" fill="#fff"/>
<rect x="423" y="352" width="1" height="3" fill="#fff"/>
<rect x="419" y="356" width="1" height="1" fill="#fff"/>
<rect x="423" y="356" width="1" height="1" fill="#fff"/>
<rect x="432" y="352" width="1" height="3" fill="#fff"/>
<rect x="434" y="352" width="1" height="3" fill="#fff"/>
<rect x="436" y="352" width="1" height="3" fill="#fff"/>
<rect x="438" y="352" width="1" height="3" fill="#fff"/>
<rect x="434" y="356" width="1" height="1" fill="#fff"/>
<rect x="438" y="356" width="1" height="1" fill="#fff"/>
<rect x="447" y="352" width="1" height="3" fill="#fff"/>
<rect x="449" y="352" width="1" height="3" fill="#fff"/>
<rect x="451" y="352" width="1" height="3" fill="#fff"/>
<rect x="453" y="352" width="1" height="3" fill="#fff"/>
<rect x="455" y="352" width="1" height="3" fill="#fff"/>
<rect x="449" y="356" width="1" height="1" fill="#fff"/>
<rect x="453" y="356" width="1" height="1" fill="#fff"/>
<rect x="460" y="352" width="1" height="3" fill="#fff"/>
<rect x="462" y="352" width="1" height="3" fill="#fff"/>
<rect x="462" y="356" width="1" height="1" fill="#fff"/>
<rect x="369" y="348" width="7" height="4" fill="#fff"/>
<rect x="263" y="361" width="5" height="4" fill="#fff"/>
<rect x="263" y="366" width="5" height="4" fill="#fff"/>
<rect x="263" y="371" width="5" height="1" fill="#fff"/>
<rect x="478" y="361" width="5" height="4" fill="#fff"/>
<rect x="478" y="366" width="5" height="4" fill="#fff"/>
<rect x="478" y="371" width="5" height="1" fill="#fff"/>
<rect x="271" y="361" width="206" height="11" fill="#fff"/>
<rect x="272" y="362" width="5" height="2" fill="#000"/>
<rect x="275" y="364" width="2" height="2" fill="#000"/>
<rect x="272" y="365" width="2" height="6" fill="#000"/>
<rect x="272" y="369" width="8" height="2" fill="#000"/>
<rect x="278" y="361" width="2" height="10" fill="#000"/>
<rect x="469" y="362" width="5" height="2" fill="#000"/>
<rect x="469" y="364" width="2" height="2" fill="#000"/>
<rect x="472" y="365" width="2" height="6" fill="#000"/>
<rect x="466" y="369" width="8" height="2" fill="#000"/>
<rect x="466" y="361" width="2" height="10" fill="#000"/>
<rect x="476" y="361" width="1" height="11" fill="#000"/>
<rect x="281" y="362" width="184" height="9" fill="#000"/>
<rect x="287" y="366" width="1" height="4" fill="#fff"/>
<rect x="289" y="366" width="1" height="4" fill="#fff"/>
<rect x="291" y="366" width="1" height="4" fill="#fff"/>
<rect x="293" y="366" width="1" height="4" fill="#fff"/>
<rect x="295" y="366" width="1" height="4" fill="#fff"/>
<rect x="304" y="366" width="1" height="4" fill="#fff"/>
<rect x="306" y="366" width="1" height="4" fill="#fff"/>
<rect x="308" y="366" width="1" height="4" fill="#fff"/>
<rect x="310" y="366" width="1" height="4" fill="#fff"/>
<rect x="312" y="366" width="1" height="4" fill="#fff"/>
<rect x="319" y="366" width="1" height="4" fill="#fff"/>
<rect x="321" y="366" width="1" height="4" fill="#fff"/>
<rect x="323" y="366" width="1" height="4" fill="#fff"/>
<rect x="325" y="366" width="1" height="4" fill="#fff"/>
<rect x="336" y="366" width="1" height="4" fill="#fff"/>
<rect x="338" y="366" width="1" height="4" fill="#fff"/>
<rect x="340" y="366" width="1" height="4" fill="#fff"/>
<rect x="342" y="366" width="1" height="4" fill="#fff"/>
<rect x="347" y="366" width="1" height="4" fill="#fff"/>
<rect x="351" y="366" width="1" height="4" fill="#fff"/>
<rect x="353" y="366" width="1" height="4" fill="#fff"/>
<rect x="355" y="366" width="1" height="4" fill="#fff"/>
<rect x="357" y="366" width="1" height="4" fill="#fff"/>
<rect x="362" y="366" width="1" height="4" fill="#fff"/>
<rect x="364" y="366" width="1" height="4" fill="#fff"/>
<rect x="366" y="366" width="1" height="4" fill="#fff"/>
<rect x="385" y="366" width="1" height="4" fill="#fff"/>
<rect x="387" y="366" width="1" height="4" fill="#fff"/>
<rect x="389" y="366" width="1" height="4" fill="#fff"/>
<rect x="391" y="366" width="1" height="4" fill="#fff"/>
<rect x="393" y="366" width="1" height="4" fill="#fff"/>
<rect x="400" y="366" width="1" height="4" fill="#fff"/>
<rect x="402" y="366" width="1" height="4" fill="#fff"/>
<rect x="404" y="366" width="1" height="4" fill="#fff"/>
<rect x="406" y="366" width="1" height="4" fill="#fff"/>
<rect x="408" y="366" width="1" height="4" fill="#fff"/>
<rect x="410" y="366" width="1" height="4" fill="#fff"/>
<rect x="417" y="366" width="1" height="4" fill="#fff"/>
<rect x="419" y="366" width="1" height="4" fill="#fff"/>
<rect x="421" y="366" width="1" height="4" fill="#fff"/>
<rect x="423" y="366" width="1" height="4" fill="#fff"/>
<rect x="432" y="366" width="1" height="4" fill="#fff"/>
<rect x="434" y="366" width="1" height="4" fill="#fff"/>
<rect x="436" y="366" width="1" height="4" fill="#fff"/>
<rect x="438" y="366" width="1" height="4" fill="#fff"/>
<rect x="447" y="366" width="1" height="4" fill="#fff"/>
<rect x="449" y="366" width="1" height="4" fill="#fff"/>
<rect x="451" y="366" width="1" height="4" fill="#fff"/>
<rect x="453" y="366" width="1" height="4" fill="#fff"/>
<rect x="455" y="366" width="1" height="4" fill="#fff"/>
<rect x="460" y="366" width="1" height="4" fill="#fff"/>
<rect x="462" y="366" width="1" height="4" fill="#fff"/>
<rect x="369" y="368" width="7" height="3" fill="#fff"/>
<rect x="263" y="374" width="5" height="4" fill="#fff"/>
<rect x="263" y="379" width="5" height="4" fill="#fff"/>
<rect x="263" y="384" width="5" height="1" fill="#fff"/>
<rect x="478" y="374" width="5" height="4" fill="#fff"/>
<rect x="478" y="379" width="5" height="4" fill="#fff"/>
<rect x="478" y="384" width="5" height="1" fill="#fff"/>
<rect x="271" y="374" width="206" height="11" fill="#fff"/>
<rect x="272" y="375" width="5" height="2" fill="#000"/>
<rect x="275" y="377" width="2" height="2" fill="#000"/>
<rect x="272" y="378" width="2" height="6" fill="#000"/>
<rect x="272" y="382" width="8" height="2" fill="#000"/>
<rect x="278" y="374" width="2" height="10" fill="#000"/>
<rect x="469" y="375" width="5" height="2" fill="#000"/>
<rect x="469" y="377" width="2" height="2" fill="#000"/>
<rect x="472" y="378" width="2" height="6" fill="#000"/>
<rect x="466" y="382" width="8" height="2" fill="#000"/>
<rect x="466" y="374" width="2" height="10" fill="#000"/>
<rect x="476" y="374" width="1" height="11" fill="#000"/>
<rect x="281" y="375" width="184" height="9" fill="#000"/>
<rect x="287" y="379" width="1" height="3" fill="#fff"/>
<rect x="289" y="379" width="1" height="3" fill="#fff"/>
<rect x="291" y="379" width="1" height="3" fill="#fff"/>
<rect x="293" y="379" width="1" height="3" fill="#fff"/>
<rect x="295" y="379" width="1" height="3" fill="#fff"/>
<rect x="289" y="383" width="1" height="1" fill="#fff"/>
<rect x="293" y="383" width="1" height="1" fill="#fff"/>
<rect x="304" y="379" width="1" height="3" fill="#fff"/>
<rect x="306" y="379" width="1" height="3" fill="#fff"/>
<rect x="308" y="379" width="1" height="3" fill="#fff"/>
<rect x="310" y="379" width="1" height="3" fill="#fff"/>
<rect x="312" y="379" width="1" height="3" fill="#fff"/>
<rect x="306" y="383" width="1" height="1" fill="#fff"/>
<rect x="310" y="383" width="1" height="1" fill="#fff"/>
<rect x="319" y="379" width="1" height="3" fill="#fff"/>
<rect x="321" y="379" width="1" height="3" fill="#fff"/>
<rect x="323" y="379" width="1" height="3" fill="#fff"/>
<rect x="325" y="379" width="1" height="3" fill="#fff"/>
<rect x="321" y="383" width="1" height="1" fill="#fff"/>
<rect x="325" y="383" width="1" height="1" fill="#fff"/>
<rect x="336" y="379" width="1" height="3" fill="#fff"/>
<rect x="338" y="379" width="1" height="3" fill="#fff"/>
<rect x="340" y="379" width="1" height="3" fill="#fff"/>
<rect x="342" y="379" width="1" height="3" fill="#fff"/>
<rect x="338" y="383" width="1" height="1" fill="#fff"/>
<rect x="342" y="383" width="1" height="1" fill="#fff"/>
<rect x="347" y="379" width="1" height="3" fill="#fff"/>
<rect x="351" y="379" width="1" height="3" fill="#fff"/>
<rect x="353" y="379" width="1" height="3" fill="#fff"/>
<rect x="355" y="379" width="1" height="3" fill="#fff"/>
<rect x="357" y="379" width="1" height="3" fill="#fff"/>
<rect x="353" y="383" width="1" height="1" fill="#fff"/>
<rect x="357" y="383" width="1" height="1" fill="#fff"/>
<rect x="362" y="379" width="1" height="3" fill="#fff"/>
<rect x="364" y="379" width="1" height="3" fill="#fff"/>
<rect x="366" y="379" width="1" height="3" fill="#fff"/>
<rect x="364" y="383" width="1" height="1" fill="#fff"/>
<rect x="385" y="379" width="1" height="3" fill="#fff"/>
<rect x="387" y="379" width="1" height="3" fill="#fff"/>
<rect x="389" y="379" width="1" height="3" fill="#fff"/>
<rect x="391" y="379" width="1" height="3" fill="#fff"/>
<rect x="393" y="379" width="1" height="3" fill="#fff"/>
<rect x="387" y="383" width="1" height="1" fill="#fff"/>
<rect x="391" y="383" width="1" height="1" fill="#fff"/>
<rect x="400" y="379" width="1" height="3" fill="#fff"/>
<rect x="402" y="379" width="1" height="3" fill="#fff"/>
<rect x="404" y="379" width="1" height="3" fill="#fff"/>
<rect x="406" y="379" width="1" height="3" fill="#fff"/>
<rect x="408" y="379" width="1" height="3" fill="#fff"/>
<rect x="410" y="379" width="1" height="3" fill="#fff"/>
<rect x="402" y="383" width="1" height="1" fill="#fff"/>
<rect x="406" y="383" width="1" height="1" fill="#fff"/>
<rect x="417" y="379" width="1" height="3" fill="#fff"/>
<rect x="419" y="379" width="1" height="3" fill="#fff"/>
<rect x="421" y="379" width="1" height="3" fill="#fff"/>
<rect x="423" y="379" width="1" height="3" fill="#fff"/>
<rect x="419" y="383" width="1" height="1" fill="#fff"/>
<rect x="423" y="383" width="1" height="1" fill="#fff"/>
<rect x="432" y="379" width="1" height="3" fill="#fff"/>
<rect x="434" y="379" width="1" height="3" fill="#fff"/>
<rect x="436" y="379" width="1" height="3" fill="#fff"/>
<rect x="438" y="379" width="1" height="3" fill="#fff"/>
<rect x="434" y="383" width="1" height="1" fill="#fff"/>
<rect x="438" y="383" width="1" height="1" fill="#fff"/>
<rect x="447" y="379" width="1" height="3" fill="#fff"/>
<rect x="449" y="379" width="1" height="3" fill="#fff"/>
<rect x="451" y="379" width="1" height="3" fill="#fff"/>
<rect x="453" y="379" width="1" height="3" fill="#fff"/>
<rect x="455" y="379" width="1" height="3" fill="#fff"/>
<rect x="449" y="383" width="1" height="1" fill="#fff"/>
<rect x="453" y="383" width="1" height="1" fill="#fff"/>
<rect x="460" y="379" width="1" height="3" fill="#fff"/>
<rect x="462" y="379" width="1" height="3" fill="#fff"/>
<rect x="462" y="383" width="1" height="1" fill="#fff"/>
<rect x="369" y="375" width="7" height="4" fill="#fff"/>
<rect x="263" y="389" width="5" height="4" fill="#fff"/>
<rect x="263" y="394" width="5" height="4" fill="#fff"/>
<rect x="263" y="398" width="5" height="1" fill="#fff"/>
<rect x="478" y="389" width="5" height="4" fill="#fff"/>
<rect x="478" y="394" width="5" height="4" fill="#fff"/>
<rect x="478" y="398" width="5" height="1" fill="#fff"/>
<rect x="271" y="389" width="206" height="10" fill="#fff"/>
<rect x="272" y="390" width="5" height="2" fill="#000"/>
<rect x="275" y="392" width="2" height="2" fill="#000"/>
<rect x="272" y="393" width="2" height="5" fill="#000"/>
<rect x="272" y="396" width="8" height="2" fill="#000"/>
<rect x="278" y="389" width="2" height="9" fill="#000"/>
<rect x="469" y="390" width="5" height="2" fill="#000"/>
<rect x="469" y="392" width="2" height="2" fill="#000"/>
<rect x="472" y="393" width="2" height="5" fill="#000"/>
<rect x="466" y="396" width="8" height="2" fill="#000"/>
<rect x="466" y="389" width="2" height="9" fill="#000"/>
<rect x="476" y="389" width="1" height="10" fill="#000"/>
<rect x="281" y="390" width="184" height="8" fill="#000"/>
<rect x="287" y="394" width="1" height="4" fill="#fff"/>
<rect x="289" y="394" width="1" height="4" fill="#fff"/>
<rect x="291" y="394" width="1" height="4" fill="#fff"/>
<rect x="293" y="394" width="1" height="4" fill="#fff"/>
<rect x="295" y="394" width="1" height="4" fill="#fff"/>
<rect x="304" y="394" width="1" height="4" fill="#fff"/>
<rect x="306" y="394" width="1" height="4" fill="#fff"/>
<rect x="308" y="394" width="1" height="4" fill="#fff"/>
<rect x="310" y="394" width="1" height="4" fill="#fff"/>
<rect x="312" y="394" width="1" height="4" fill="#fff"/>
<rect x="319" y="394" width="1" height="4" fill="#fff"/>
<rect x="321" y="394" width="1" height="4" fill="#fff"/>
<rect x="323" y="394" width="1" height="4" fill="#fff"/>
<rect x="325" y="394" width="1" height="4" fill="#fff"/>
<rect x="336" y="394" width="1" height="4" fill="#fff"/>
<rect x="338" y="394" width="1" height="4" fill="#fff"/>
<rect x="340" y="394" width="1" height="4" fill="#fff"/>
<rect x="342" y="394" width="1" height="4" fill="#fff"/>
<rect x="347" y="394" width="1" height="4" fill="#fff"/>
<rect x="351" y="394" width="1" height="4" fill="#fff"/>
<rect x="353" y="394" width="1" height="4" fill="#fff"/>
<rect x="355" y="394" width="1" height="4" fill="#fff"/>
<rect x="357" y="394" width="1" height="4" fill="#fff"/>
<rect x="362" y="394" width="1" height="4" fill="#fff"/>
<rect x="364" y="394" width="1" height="4" fill="#fff"/>
<rect x="366" y="394" width="1" height="4" fill="#fff"/>
<rect x="385" y="394" width="1" height="4" fill="#fff"/>
<rect x="387" y="394" width="1" height="4" fill="#fff"/>
<rect x="389" y="394" width="1" height="4" fill="#fff"/>
<rect x="391" y="394" width="1" height="4" fill="#fff"/>
<rect x="393" y="394" width="1" height="4" fill="#fff"/>
<rect x="400" y="394" width="1" height="4" fill="#fff"/>
<rect x="402" y="394" width="1" height="4" fill="#fff"/>
<rect x="404" y="394" width="1" height="4" fill="#fff"/>
<rect x="406" y="394" width="1" height="4" fill="#fff"/>
<rect x="408" y="394" width="1" height="4" fill="#fff"/>
<rect x="410" y="394" width="1" height="4" fill="#fff"/>
<rect x="417" y="394" width="1" height="4" fill="#fff"/>
<rect x="419" y="394" width="1" height="4" fill="#fff"/>
<rect x="421" y="394" width="1" height="4" fill="#fff"/>
<rect x="423" y="394" width="1" height="4" fill="#fff"/>
<rect x="432" y="394" width="1" height="4" fill="#fff"/>
<rect x="434" y="394" width="1" height="4" fill="#fff"/>
<rect x="436" y="394" width="1" height="4" fill="#fff"/>
<rect x="438" y="394" width="1" height="4" fill="#fff"/>
<rect x="447" y="394" width="1" height="4" fill="#fff"/>
<rect x="449" y="394" width="1" height="4" fill="#fff"/>
<rect x="451" y="394" width="1" height="4" fill="#fff"/>
<rect x="453" y="394" width="1" height="4" fill="#fff"/>
<rect x="455" y="394" width="1" height="4" fill="#fff"/>
<rect x="460" y="394" width="1" height="4" fill="#fff"/>
<rect x="462" y="394" width="1" height="4" fill="#fff"/>
<rect x="369" y="395" width="7" height="3" fill="#fff"/>
<rect x="349" y="325" width="48" height="15" fill="#000"/>
<rect x="351" y="328" width="44" height="11" rx="1.5" fill="#fff"/>
<text x="373.2" y="336.5" font-size="11" text-anchor="middle" filter="url(#bw)">BANK 0</text>
<rect x="349" y="351" width="48" height="15" fill="#000"/>
<rect x="351" y="354" width="44" height="11" rx="1.5" fill="#fff"/>
<text x="373.2" y="362.5" font-size="11" text-anchor="middle" filter="url(#bw)">BANK 1</text>
<rect x="349" y="377" width="48" height="15" fill="#000"/>
<rect x="351" y="380" width="44" height="11" rx="1.5" fill="#fff"/>
<text x="373.2" y="388.5" font-size="11" text-anchor="middle" filter="url(#bw)">BANK 2</text>
<line x1="104.2" y1="20" x2="111" y2="20" stroke="#000" stroke-width="3"/>
<polygon points="97,22.2 106.2,20 97,17.8" fill="#000" stroke="#000" stroke-width="2.6" stroke-linejoin="round"/>
<rect x="71" y="13" width="29" height="15" rx="3" fill="#000"/>
<polygon points="97,22.2 104.7,20 97,17.8" fill="#fff" stroke="none"/>
<rect x="73" y="15" width="25" height="11" rx="1.5" fill="#fff"/>
<text x="84.9" y="24.7" font-size="11" text-anchor="middle" filter="url(#bw)">J30</text>
<line x1="136" y1="54.8" x2="136" y2="62" stroke="#000" stroke-width="3"/>
<polygon points="133.8,47 136,56.8 138.2,47" fill="#000" stroke="#000" stroke-width="2.6" stroke-linejoin="round"/>
<rect x="123" y="35" width="27" height="15" rx="3" fill="#000"/>
<polygon points="133.8,47 136,55.3 138.2,47" fill="#fff" stroke="none"/>
<rect x="125" y="37" width="23" height="11" rx="1.5" fill="#fff"/>
<text x="136.7" y="46.7" font-size="11" text-anchor="middle" filter="url(#bw)">J29</text>
<line x1="44.2" y1="88" x2="51" y2="88" stroke="#000" stroke-width="3"/>
<polygon points="37,90.2 46.2,88 37,85.8" fill="#000" stroke="#000" stroke-width="2.6" stroke-linejoin="round"/>
<rect x="11" y="81" width="29" height="14" rx="3" fill="#000"/>
<polygon points="37,90.2 44.7,88 37,85.8" fill="#fff" stroke="none"/>
<rect x="13" y="82" width="25" height="11" rx="1.5" fill="#fff"/>
<text x="25.7" y="91.7" font-size="11" text-anchor="middle" filter="url(#bw)">J34</text>
<line x1="43.8" y1="118" x2="51" y2="118" stroke="#000" stroke-width="3"/>
<polygon points="36,120.2 45.8,118 36,115.8" fill="#000" stroke="#000" stroke-width="2.6" stroke-linejoin="round"/>
<rect x="10" y="110" width="29" height="15" rx="3" fill="#000"/>
<polygon points="36,120.2 44.3,118 36,115.8" fill="#fff" stroke="none"/>
<rect x="12" y="112" width="25" height="11" rx="1.5" fill="#fff"/>
<text x="24.7" y="121.7" font-size="11" text-anchor="middle" filter="url(#bw)">J33</text>
<line x1="44.2" y1="144.5" x2="51" y2="144.5" stroke="#000" stroke-width="3"/>
<polygon points="37,146.7 46.2,144.5 37,142.3" fill="#000" stroke="#000" stroke-width="2.6" stroke-linejoin="round"/>
<rect x="11" y="137" width="29" height="15" rx="3" fill="#000"/>
<polygon points="37,146.7 44.7,144.5 37,142.3" fill="#fff" stroke="none"/>
<rect x="13" y="139" width="25" height="11" rx="1.5" fill="#fff"/>
<text x="25.7" y="148.7" font-size="11" text-anchor="middle" filter="url(#bw)">J32</text>
<line x1="43.8" y1="169.5" x2="51" y2="169.5" stroke="#000" stroke-width="3"/>
<polygon points="36,171.7 45.8,169.5 36,167.3" fill="#000" stroke="#000" stroke-width="2.6" stroke-linejoin="round"/>
<rect x="10" y="163" width="29" height="14" rx="3" fill="#000"/>
<polygon points="36,171.7 44.3,169.5 36,167.3" fill="#fff" stroke="none"/>
<rect x="12" y="165" width="25" height="10" rx="1.5" fill="#fff"/>
<text x="24.7" y="174.2" font-size="11" text-anchor="middle" filter="url(#bw)">J31</text>
<line x1="37.2" y1="194.5" x2="47" y2="194.5" stroke="#000" stroke-width="3"/>
<polygon points="32,196.7 39.2,194.5 32,192.3" fill="#000" stroke="#000" stroke-width="2.6" stroke-linejoin="round"/>
<rect x="2" y="188" width="33" height="14" rx="3" fill="#000"/>
<polygon points="32,196.7 37.7,194.5 32,192.3" fill="#fff" stroke="none"/>
<rect x="4" y="190" width="29" height="10" rx="1.5" fill="#fff"/>
<text x="18.7" y="199.2" font-size="11" text-anchor="middle" filter="url(#bw)">JP18</text>
<line x1="50" y1="208" x2="58" y2="200" stroke="#000" stroke-width="3.4"/>
<rect x="19" y="206" width="34" height="15" rx="3" fill="#000"/>
<rect x="21" y="208" width="30" height="11" rx="1.5" fill="#fff"/>
<line x1="48.5858" y1="209.414" x2="54.4" y2="203.6" stroke="#fff" stroke-width="1.2"/>
<text x="36.2" y="217.7" font-size="11" text-anchor="middle" filter="url(#bw)">JP17</text>
<line x1="230.2" y1="32" x2="237" y2="32" stroke="#000" stroke-width="3"/>
<polygon points="223,34.2 232.2,32 223,29.8" fill="#000" stroke="#000" stroke-width="2.6" stroke-linejoin="round"/>
<rect x="192" y="24" width="34" height="14" rx="3" fill="#000"/>
<polygon points="223,34.2 230.7,32 223,29.8" fill="#fff" stroke="none"/>
<rect x="194" y="26" width="30" height="10" rx="1.5" fill="#fff"/>
<text x="209.2" y="35.2" font-size="11" text-anchor="middle" filter="url(#bw)">JP15</text>
<line x1="254.2" y1="56" x2="261" y2="56" stroke="#000" stroke-width="3"/>
<polygon points="247,58.2 256.2,56 247,53.8" fill="#000" stroke="#000" stroke-width="2.6" stroke-linejoin="round"/>
<rect x="216" y="49" width="34" height="14" rx="3" fill="#000"/>
<polygon points="247,58.2 254.7,56 247,53.8" fill="#fff" stroke="none"/>
<rect x="218" y="51" width="30" height="10" rx="1.5" fill="#fff"/>
<text x="233.2" y="60.2" font-size="11" text-anchor="middle" filter="url(#bw)">JP35</text>
<line x1="276" y1="72" x2="267" y2="80" stroke="#000" stroke-width="3.4"/>
<rect x="273" y="60" width="28" height="14" rx="3" fill="#000"/>
<rect x="275" y="62" width="24" height="10" rx="1.5" fill="#fff"/>
<line x1="277.495" y1="70.6713" x2="271.05" y2="76.4" stroke="#fff" stroke-width="1.2"/>
<text x="287.2" y="71.2" font-size="11" text-anchor="middle" filter="url(#bw)">J28</text>
<line x1="234.5" y1="94" x2="234.5" y2="102" stroke="#000" stroke-width="3"/>
<polygon points="232.3,85 234.5,96 236.7,85" fill="#000" stroke="#000" stroke-width="2.6" stroke-linejoin="round"/>
<rect x="217" y="73" width="35" height="15" rx="3" fill="#000"/>
<polygon points="232.3,85 234.5,94.5 236.7,85" fill="#fff" stroke="none"/>
<rect x="219" y="75" width="31" height="11" rx="1.5" fill="#fff"/>
<text x="234.7" y="84.7" font-size="11" text-anchor="middle" filter="url(#bw)">JP14</text>
<line x1="251" y1="105" x2="243" y2="113" stroke="#000" stroke-width="3.4"/>
<rect x="248" y="92" width="34" height="15" rx="3" fill="#000"/>
<rect x="250" y="94" width="30" height="11" rx="1.5" fill="#fff"/>
<line x1="252.414" y1="103.586" x2="246.6" y2="109.4" stroke="#fff" stroke-width="1.2"/>
<text x="265.2" y="103.7" font-size="11" text-anchor="middle" filter="url(#bw)">JP13</text>
<line x1="252" y1="129" x2="243" y2="121.5" stroke="#000" stroke-width="3.4"/>
<rect x="249" y="127" width="34" height="15" rx="3" fill="#000"/>
<rect x="251" y="129" width="30" height="11" rx="1.5" fill="#fff"/>
<line x1="253.536" y1="130.28" x2="247.05" y2="124.875" stroke="#fff" stroke-width="1.2"/>
<text x="266.2" y="138.7" font-size="11" text-anchor="middle" filter="url(#bw)">JP12</text>
<line x1="238" y1="140.6" x2="238" y2="133" stroke="#000" stroke-width="3"/>
<polygon points="240.2,149 238,138.6 235.8,149" fill="#000" stroke="#000" stroke-width="2.6" stroke-linejoin="round"/>
<rect x="221" y="146" width="34" height="15" rx="3" fill="#000"/>
<polygon points="240.2,149 238,140.1 235.8,149" fill="#fff" stroke="none"/>
<rect x="223" y="148" width="30" height="11" rx="1.5" fill="#fff"/>
<text x="238.2" y="157.7" font-size="11" text-anchor="middle" filter="url(#bw)">JP11</text>
<line x1="211" y1="156" x2="211" y2="148" stroke="#000" stroke-width="3"/>
<polygon points="213.2,165 211,154 208.8,165" fill="#000" stroke="#000" stroke-width="2.6" stroke-linejoin="round"/>
<rect x="194" y="162" width="35" height="14" rx="3" fill="#000"/>
<polygon points="213.2,165 211,155.5 208.8,165" fill="#fff" stroke="none"/>
<rect x="195" y="163" width="32" height="11" rx="1.5" fill="#fff"/>
<text x="211.2" y="172.7" font-size="11" text-anchor="middle" filter="url(#bw)">JP16</text>
<line x1="326" y1="21" x2="317" y2="29.5" stroke="#000" stroke-width="3.4"/>
<rect x="323" y="10" width="28" height="13" rx="3" fill="#000"/>
<rect x="325" y="12" width="24" height="9" rx="1.5" fill="#fff"/>
<line x1="327.454" y1="19.6268" x2="321.05" y2="25.675" stroke="#fff" stroke-width="1.2"/>
<text x="337.2" y="21.2" font-size="11" text-anchor="middle" filter="url(#bw)">JP9</text>
<line x1="325.2" y1="37" x2="318" y2="37" stroke="#000" stroke-width="3"/>
<polygon points="333,34.8 323.2,37 333,39.2" fill="#000" stroke="#000" stroke-width="2.6" stroke-linejoin="round"/>
<rect x="330" y="30" width="28" height="15" rx="3" fill="#000"/>
<polygon points="333,34.8 324.7,37 333,39.2" fill="#fff" stroke="none"/>
<rect x="332" y="32" width="24" height="11" rx="1.5" fill="#fff"/>
<text x="344.2" y="41.7" font-size="11" text-anchor="middle" filter="url(#bw)">JP8</text>
<line x1="325" y1="67" x2="316.5" y2="75" stroke="#000" stroke-width="3.4"/>
<rect x="322" y="56" width="27" height="13" rx="3" fill="#000"/>
<rect x="324" y="58" width="23" height="9" rx="1.5" fill="#fff"/>
<line x1="326.456" y1="65.6293" x2="320.325" y2="71.4" stroke="#fff" stroke-width="1.2"/>
<text x="335.7" y="67.2" font-size="11" text-anchor="middle" filter="url(#bw)">JP6</text>
<line x1="317" y1="98" x2="308.5" y2="89.5" stroke="#000" stroke-width="3.4"/>
<rect x="314" y="96" width="28" height="14" rx="3" fill="#000"/>
<rect x="316" y="98" width="24" height="10" rx="1.5" fill="#fff"/>
<line x1="318.414" y1="99.4142" x2="312.325" y2="93.325" stroke="#fff" stroke-width="1.2"/>
<text x="328.2" y="107.2" font-size="11" text-anchor="middle" filter="url(#bw)">JP7</text>
<line x1="350.2" y1="82.5" x2="343" y2="82.5" stroke="#000" stroke-width="3"/>
<polygon points="358,80.3 348.2,82.5 358,84.7" fill="#000" stroke="#000" stroke-width="2.6" stroke-linejoin="round"/>
<rect x="355" y="75" width="32" height="14" rx="3" fill="#000"/>
<polygon points="358,80.3 349.7,82.5 358,84.7" fill="#fff" stroke="none"/>
<rect x="357" y="77" width="28" height="10" rx="1.5" fill="#fff"/>
<text x="371.2" y="86.2" font-size="11" text-anchor="middle" filter="url(#bw)">JP10</text>
<line x1="634" y1="32" x2="634" y2="40" stroke="#000" stroke-width="3"/>
<polygon points="631.8,23 634,34 636.2,23" fill="#000" stroke="#000" stroke-width="2.6" stroke-linejoin="round"/>
<rect x="621" y="13" width="28" height="14" rx="3" fill="#000"/>
<polygon points="631.8,23 634,32.5 636.2,23" fill="#fff" stroke="none"/>
<rect x="623" y="15" width="24" height="10" rx="1.5" fill="#fff"/>
<text x="635.2" y="24.2" font-size="11" text-anchor="middle" filter="url(#bw)">JP1</text>
<line x1="624.2" y1="82" x2="631" y2="82" stroke="#000" stroke-width="3"/>
<polygon points="617,84.2 626.2,82 617,79.8" fill="#000" stroke="#000" stroke-width="2.6" stroke-linejoin="round"/>
<rect x="586" y="75" width="34" height="15" rx="3" fill="#000"/>
<polygon points="617,84.2 624.7,82 617,79.8" fill="#fff" stroke="none"/>
<rect x="588" y="77" width="30" height="11" rx="1.5" fill="#fff"/>
<text x="603.2" y="86.7" font-size="11" text-anchor="middle" filter="url(#bw)">SEN1</text>
<line x1="178.8" y1="304.5" x2="186" y2="304.5" stroke="#000" stroke-width="3"/>
<polygon points="171,306.7 180.8,304.5 171,302.3" fill="#000" stroke="#000" stroke-width="2.6" stroke-linejoin="round"/>
<rect x="141" y="297" width="33" height="15" rx="1.5" fill="#000"/>
<polygon points="171,306.7 179.3,304.5 171,302.3" fill="#fff" stroke="none"/>
<rect x="142" y="299" width="30" height="11" rx="0.5" fill="#fff"/>
<text x="157.2" y="308.7" font-size="11" text-anchor="middle" filter="url(#bw)">SEN2</text>
<line x1="312" y1="295.4" x2="312" y2="303" stroke="#000" stroke-width="3"/>
<polygon points="309.8,287 312,297.4 314.2,287" fill="#000" stroke="#000" stroke-width="2.6" stroke-linejoin="round"/>
<rect x="299" y="276" width="27" height="14" rx="3" fill="#000"/>
<polygon points="309.8,287 312,295.9 314.2,287" fill="#fff" stroke="none"/>
<rect x="300" y="278" width="24" height="10" rx="1.5" fill="#fff"/>
<text x="312.2" y="287.2" font-size="11" text-anchor="middle" filter="url(#bw)">J27</text>
<line x1="465" y1="295.4" x2="465" y2="303" stroke="#000" stroke-width="3"/>
<polygon points="462.8,287 465,297.4 467.2,287" fill="#000" stroke="#000" stroke-width="2.6" stroke-linejoin="round"/>
<rect x="453" y="276" width="26" height="14" rx="3" fill="#000"/>
<polygon points="462.8,287 465,295.9 467.2,287" fill="#fff" stroke="none"/>
<rect x="455" y="278" width="22" height="10" rx="1.5" fill="#fff"/>
<text x="466.2" y="287.2" font-size="11" text-anchor="middle" filter="url(#bw)">J20</text>
<line x1="553" y1="264.4" x2="553" y2="272" stroke="#000" stroke-width="3"/>
<polygon points="550.8,256 553,266.4 555.2,256" fill="#000" stroke="#000" stroke-width="2.6" stroke-linejoin="round"/>
<rect x="541" y="245" width="27" height="14" rx="3" fill="#000"/>
<polygon points="550.8,256 553,264.9 555.2,256" fill="#fff" stroke="none"/>
<rect x="543" y="247" width="23" height="10" rx="1.5" fill="#fff"/>
<text x="554.7" y="256.2" font-size="11" text-anchor="middle" filter="url(#bw)">J10</text>
<line x1="512" y1="309.2" x2="512" y2="302" stroke="#000" stroke-width="3"/>
<polygon points="514.2,317 512,307.2 509.8,317" fill="#000" stroke="#000" stroke-width="2.6" stroke-linejoin="round"/>
<rect x="502" y="314" width="20" height="15" rx="3" fill="#000"/>
<polygon points="514.2,317 512,308.7 509.8,317" fill="#fff" stroke="none"/>
<rect x="504" y="316" width="16" height="11" rx="1.5" fill="#fff"/>
<text x="512.2" y="325.7" font-size="11" text-anchor="middle" filter="url(#bw)">J9</text>
<line x1="609" y1="282.8" x2="609" y2="290" stroke="#000" stroke-width="3"/>
<polygon points="606.8,275 609,284.8 611.2,275" fill="#000" stroke="#000" stroke-width="2.6" stroke-linejoin="round"/>
<rect x="599" y="263" width="21" height="15" rx="3" fill="#000"/>
<polygon points="606.8,275 609,283.3 611.2,275" fill="#fff" stroke="none"/>
<rect x="601" y="265" width="17" height="11" rx="1.5" fill="#fff"/>
<text x="609.7" y="274.7" font-size="11" text-anchor="middle" filter="url(#bw)">J6</text>
<line x1="630" y1="302" x2="621.5" y2="310" stroke="#000" stroke-width="3.4"/>
<rect x="627" y="289" width="21" height="15" rx="3" fill="#000"/>
<rect x="629" y="291" width="17" height="11" rx="1.5" fill="#fff"/>
<line x1="631.456" y1="300.629" x2="625.325" y2="306.4" stroke="#fff" stroke-width="1.2"/>
<text x="637.7" y="300.7" font-size="11" text-anchor="middle" filter="url(#bw)">J5</text>
<line x1="572.2" y1="317" x2="579" y2="317" stroke="#000" stroke-width="3"/>
<polygon points="565,319.2 574.2,317 565,314.8" fill="#000" stroke="#000" stroke-width="2.6" stroke-linejoin="round"/>
<rect x="546" y="310" width="22" height="15" rx="3" fill="#000"/>
<polygon points="565,319.2 572.7,317 565,314.8" fill="#fff" stroke="none"/>
<rect x="548" y="312" width="18" height="11" rx="1.5" fill="#fff"/>
<text x="557.2" y="321.7" font-size="11" text-anchor="middle" filter="url(#bw)">J7</text>
<line x1="656.2" y1="321" x2="647" y2="321" stroke="#000" stroke-width="3"/>
<polygon points="661,318.8 654.2,321 661,323.2" fill="#000" stroke="#000" stroke-width="2.6" stroke-linejoin="round"/>
<rect x="658" y="314" width="21" height="14" rx="3" fill="#000"/>
<polygon points="661,318.8 655.7,321 661,323.2" fill="#fff" stroke="none"/>
<rect x="660" y="316" width="17" height="10" rx="1.5" fill="#fff"/>
<text x="668.7" y="325.2" font-size="11" text-anchor="middle" filter="url(#bw)">J1</text>
<line x1="604" y1="336" x2="612" y2="328" stroke="#000" stroke-width="3.4"/>
<rect x="587" y="333" width="20" height="15" rx="3" fill="#000"/>
<rect x="589" y="335" width="16" height="11" rx="1.5" fill="#fff"/>
<line x1="602.586" y1="337.414" x2="608.4" y2="331.6" stroke="#fff" stroke-width="1.2"/>
<text x="597.2" y="344.7" font-size="11" text-anchor="middle" filter="url(#bw)">J4</text>
<line x1="647" y1="340" x2="636.5" y2="332.5" stroke="#000" stroke-width="3.4"/>
<rect x="644" y="338" width="19" height="14" rx="3" fill="#000"/>
<rect x="646" y="340" width="15" height="10" rx="1.5" fill="#fff"/>
<line x1="648.627" y1="341.162" x2="641.225" y2="335.875" stroke="#fff" stroke-width="1.2"/>
<text x="653.7" y="349.2" font-size="11" text-anchor="middle" filter="url(#bw)">J3</text>
<line x1="573.2" y1="345" x2="580" y2="345" stroke="#000" stroke-width="3"/>
<polygon points="566,347.2 575.2,345 566,342.8" fill="#000" stroke="#000" stroke-width="2.6" stroke-linejoin="round"/>
<rect x="540" y="338" width="29" height="14" rx="3" fill="#000"/>
<polygon points="566,347.2 573.7,345 566,342.8" fill="#fff" stroke="none"/>
<rect x="542" y="340" width="25" height="10" rx="1.5" fill="#fff"/>
<text x="554.7" y="349.2" font-size="11" text-anchor="middle" filter="url(#bw)">JP5</text>
<line x1="573.2" y1="364" x2="580" y2="364" stroke="#000" stroke-width="3"/>
<polygon points="566,366.2 575.2,364 566,361.8" fill="#000" stroke="#000" stroke-width="2.6" stroke-linejoin="round"/>
<rect x="540" y="357" width="29" height="14" rx="3" fill="#000"/>
<polygon points="566,366.2 573.7,364 566,361.8" fill="#fff" stroke="none"/>
<rect x="542" y="359" width="25" height="10" rx="1.5" fill="#fff"/>
<text x="554.7" y="368.2" font-size="11" text-anchor="middle" filter="url(#bw)">JP4</text>
<line x1="507.2" y1="352" x2="500" y2="352" stroke="#000" stroke-width="3"/>
<polygon points="515,349.8 505.2,352 515,354.2" fill="#000" stroke="#000" stroke-width="2.6" stroke-linejoin="round"/>
<rect x="512" y="345" width="28" height="14" rx="3" fill="#000"/>
<polygon points="515,349.8 506.7,352 515,354.2" fill="#fff" stroke="none"/>
<rect x="514" y="347" width="24" height="10" rx="1.5" fill="#fff"/>
<text x="526.2" y="356.2" font-size="11" text-anchor="middle" filter="url(#bw)">J15</text>
<line x1="614.8" y1="359.5" x2="608" y2="359.5" stroke="#000" stroke-width="3"/>
<polygon points="622,357.3 612.8,359.5 622,361.7" fill="#000" stroke="#000" stroke-width="2.6" stroke-linejoin="round"/>
<rect x="619" y="353" width="28" height="14" rx="3" fill="#000"/>
<polygon points="622,357.3 614.3,359.5 622,361.7" fill="#fff" stroke="none"/>
<rect x="621" y="355" width="24" height="10" rx="1.5" fill="#fff"/>
<text x="632.2" y="364.2" font-size="11" text-anchor="middle" filter="url(#bw)">JP2</text>
<line x1="607" y1="372" x2="598" y2="364" stroke="#000" stroke-width="3.4"/>
<rect x="603" y="370" width="27" height="13" rx="3" fill="#000"/>
<rect x="605" y="372" width="23" height="9" rx="1.5" fill="#fff"/>
<line x1="608.495" y1="373.329" x2="602.05" y2="367.6" stroke="#fff" stroke-width="1.2"/>
<text x="616.7" y="381.2" font-size="11" text-anchor="middle" filter="url(#bw)">JP3</text>
</svg>
</body>
</html>
